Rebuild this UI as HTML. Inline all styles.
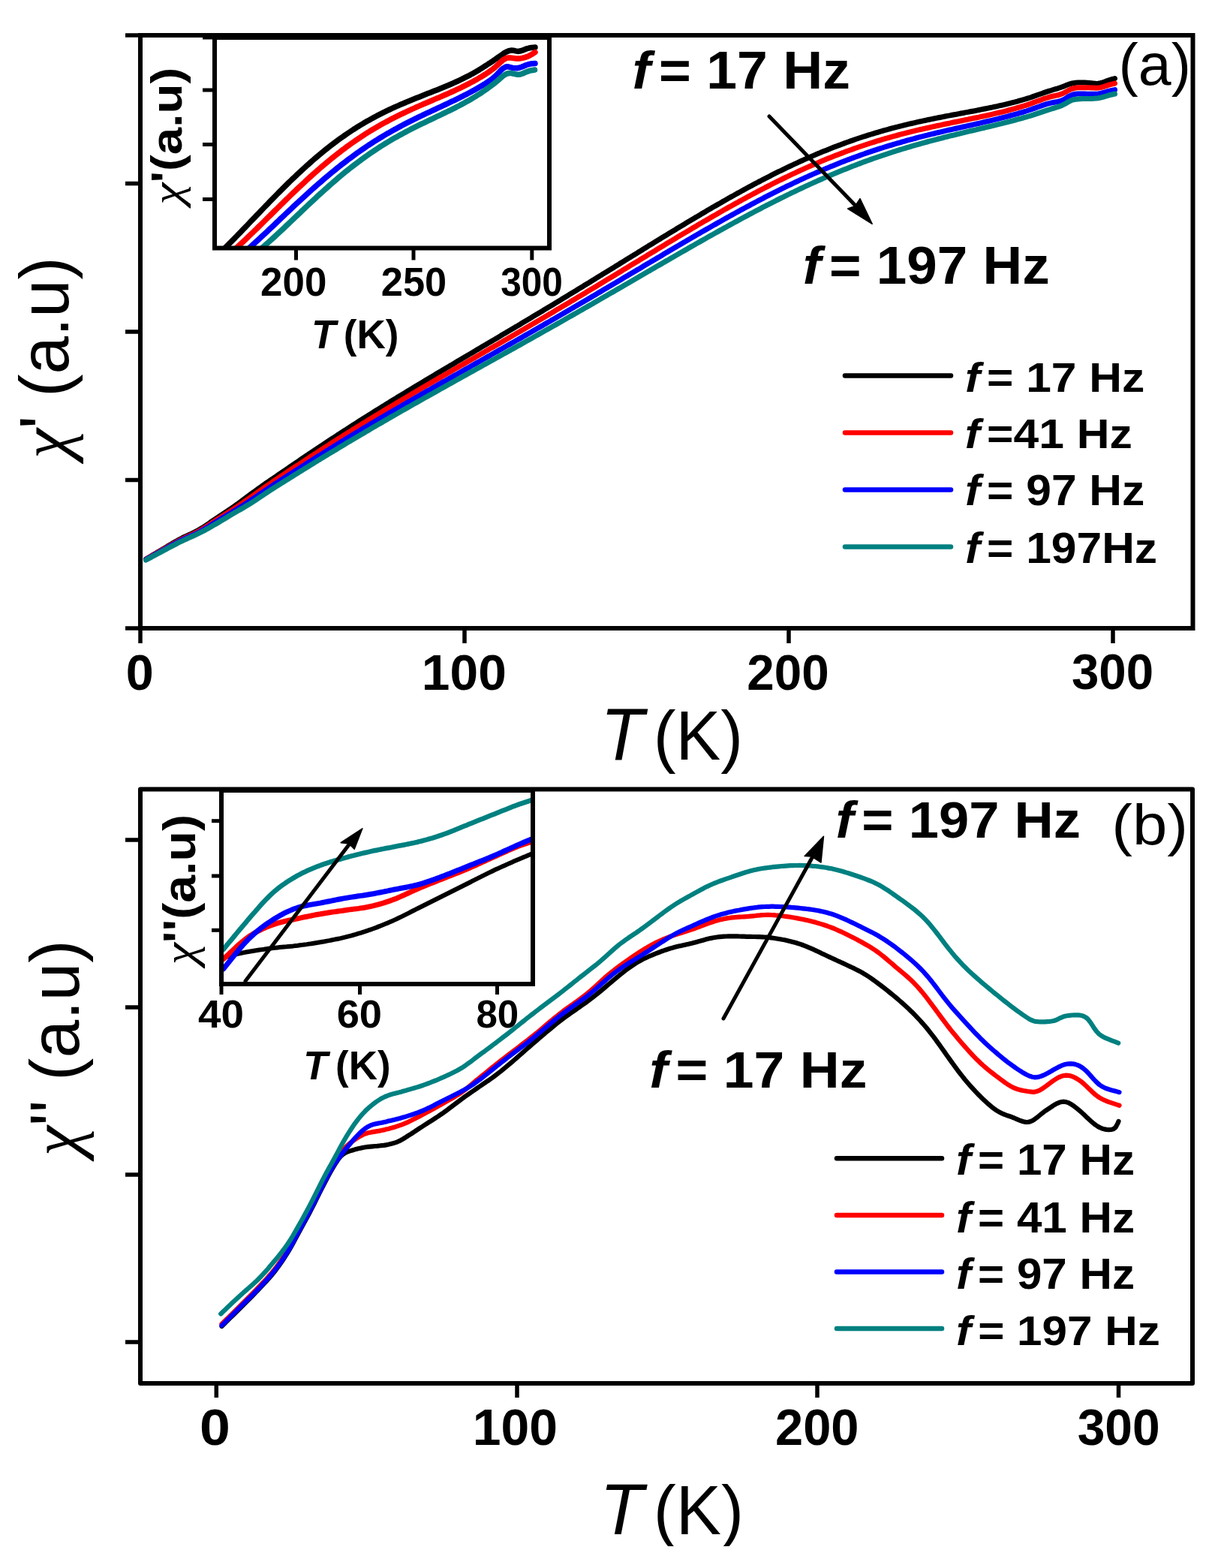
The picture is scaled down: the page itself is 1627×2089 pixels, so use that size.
<!DOCTYPE html>
<html><head><meta charset="utf-8"><title>AC susceptibility plot</title>
<style>html,body{margin:0;padding:0;background:#fff;}svg{display:block;}</style>
</head><body>
<svg width="1627" height="2089" viewBox="0 0 1627 2089" font-family="Liberation Sans, Arial, sans-serif">
<rect width="100%" height="100%" fill="#fff"/>
<path d="M194.5,745.0 L197.5,743.2 L200.5,741.4 L203.5,739.6 L206.5,737.9 L209.5,736.1 L212.5,734.3 L215.5,732.5 L218.5,730.7 L221.5,728.9 L224.5,727.1 L227.5,725.4 L230.5,723.6 L233.5,721.9 L236.5,720.2 L239.5,718.6 L242.5,717.0 L245.5,715.5 L248.5,714.1 L251.5,712.7 L254.5,711.3 L257.5,709.9 L260.5,708.4 L263.5,706.8 L266.5,705.1 L269.5,703.3 L272.5,701.3 L275.5,699.3 L278.5,697.3 L281.5,695.2 L284.5,693.1 L287.5,691.1 L290.5,689.1 L293.5,687.1 L296.5,685.1 L299.5,683.1 L302.5,681.1 L305.5,679.1 L308.5,677.1 L311.5,675.0 L314.5,672.9 L317.5,670.7 L320.5,668.5 L323.5,666.3 L326.5,664.0 L329.5,661.8 L332.5,659.6 L335.5,657.4 L338.5,655.2 L341.5,653.1 L344.5,650.9 L347.5,648.8 L350.5,646.7 L353.5,644.5 L356.5,642.5 L359.5,640.4 L362.5,638.3 L365.5,636.3 L368.5,634.3 L371.5,632.2 L374.5,630.2 L377.5,628.1 L380.5,626.1 L383.5,624.0 L386.5,621.9 L389.5,619.9 L392.5,617.9 L395.5,615.8 L398.5,613.8 L401.5,611.7 L404.5,609.7 L407.5,607.7 L410.5,605.7 L413.5,603.6 L416.5,601.6 L419.5,599.6 L422.5,597.6 L425.5,595.6 L428.5,593.6 L431.5,591.7 L434.5,589.7 L437.5,587.7 L440.5,585.7 L443.5,583.8 L446.5,581.8 L449.5,579.8 L452.5,577.9 L455.5,575.9 L458.5,574.0 L461.5,572.1 L464.5,570.1 L467.5,568.2 L470.5,566.3 L473.5,564.4 L476.5,562.5 L479.5,560.5 L482.5,558.6 L485.5,556.8 L488.5,554.9 L491.5,553.0 L494.5,551.1 L497.5,549.2 L500.5,547.3 L503.5,545.5 L506.5,543.6 L509.5,541.7 L512.5,539.9 L515.5,538.0 L518.5,536.2 L521.5,534.3 L524.5,532.5 L527.5,530.7 L530.5,528.8 L533.5,527.0 L536.5,525.2 L539.5,523.4 L542.5,521.5 L545.5,519.7 L548.5,517.9 L551.5,516.1 L554.5,514.3 L557.5,512.5 L560.5,510.7 L563.5,508.9 L566.5,507.1 L569.5,505.3 L572.5,503.5 L575.5,501.7 L578.5,499.9 L581.5,498.1 L584.5,496.3 L587.5,494.6 L590.5,492.8 L593.5,491.0 L596.5,489.2 L599.5,487.4 L602.5,485.7 L605.5,483.9 L608.5,482.1 L611.5,480.3 L614.5,478.6 L617.5,476.8 L620.5,475.0 L623.5,473.2 L626.5,471.5 L629.5,469.7 L632.5,467.9 L635.5,466.1 L638.5,464.4 L641.5,462.6 L644.5,460.8 L647.5,459.1 L650.5,457.3 L653.5,455.5 L656.5,453.7 L659.5,452.0 L662.5,450.2 L665.5,448.4 L668.5,446.6 L671.5,444.8 L674.5,443.1 L677.5,441.3 L680.5,439.5 L683.5,437.7 L686.5,435.9 L689.5,434.2 L692.5,432.4 L695.5,430.6 L698.5,428.8 L701.5,427.0 L704.5,425.2 L707.5,423.4 L710.5,421.6 L713.5,419.8 L716.5,418.0 L719.5,416.2 L722.5,414.4 L725.5,412.6 L728.5,410.8 L731.5,409.0 L734.5,407.2 L737.5,405.4 L740.5,403.6 L743.5,401.7 L746.5,399.9 L749.5,398.1 L752.5,396.3 L755.5,394.5 L758.5,392.6 L761.5,390.8 L764.5,389.0 L767.5,387.2 L770.5,385.3 L773.5,383.5 L776.5,381.7 L779.5,379.8 L782.5,378.0 L785.5,376.2 L788.5,374.3 L791.5,372.5 L794.5,370.6 L797.5,368.8 L800.5,366.9 L803.5,365.1 L806.5,363.3 L809.5,361.4 L812.5,359.6 L815.5,357.7 L818.5,355.9 L821.5,354.0 L824.5,352.2 L827.5,350.3 L830.5,348.5 L833.5,346.6 L836.5,344.8 L839.5,342.9 L842.5,341.1 L845.5,339.2 L848.5,337.4 L851.5,335.5 L854.5,333.7 L857.5,331.8 L860.5,330.0 L863.5,328.1 L866.5,326.3 L869.5,324.5 L872.5,322.6 L875.5,320.8 L878.5,318.9 L881.5,317.1 L884.5,315.3 L887.5,313.5 L890.5,311.6 L893.5,309.8 L896.5,308.0 L899.5,306.2 L902.5,304.3 L905.5,302.5 L908.5,300.7 L911.5,298.9 L914.5,297.1 L917.5,295.3 L920.5,293.5 L923.5,291.7 L926.5,289.9 L929.5,288.2 L932.5,286.4 L935.5,284.6 L938.5,282.9 L941.5,281.1 L944.5,279.3 L947.5,277.6 L950.5,275.8 L953.5,274.1 L956.5,272.4 L959.5,270.7 L962.5,268.9 L965.5,267.2 L968.5,265.5 L971.5,263.8 L974.5,262.1 L977.5,260.5 L980.5,258.8 L983.5,257.1 L986.5,255.5 L989.5,253.8 L992.5,252.2 L995.5,250.5 L998.5,248.9 L1001.5,247.3 L1004.5,245.7 L1007.5,244.1 L1010.5,242.5 L1013.5,241.0 L1016.5,239.4 L1019.5,237.8 L1022.5,236.3 L1025.5,234.8 L1028.5,233.2 L1031.5,231.7 L1034.5,230.2 L1037.5,228.7 L1040.5,227.3 L1043.5,225.8 L1046.5,224.3 L1049.5,222.9 L1052.5,221.5 L1055.5,220.1 L1058.5,218.7 L1061.5,217.3 L1064.5,215.9 L1067.5,214.5 L1070.5,213.2 L1073.5,211.8 L1076.5,210.5 L1079.5,209.2 L1082.5,207.9 L1085.5,206.6 L1088.5,205.3 L1091.5,204.1 L1094.5,202.8 L1097.5,201.6 L1100.5,200.4 L1103.5,199.2 L1106.5,198.0 L1109.5,196.8 L1112.5,195.6 L1115.5,194.5 L1118.5,193.4 L1121.5,192.2 L1124.5,191.1 L1127.5,190.0 L1130.5,189.0 L1133.5,187.9 L1136.5,186.9 L1139.5,185.8 L1142.5,184.8 L1145.5,183.8 L1148.5,182.8 L1151.5,181.8 L1154.5,180.9 L1157.5,179.9 L1160.5,179.0 L1163.5,178.1 L1166.5,177.2 L1169.5,176.3 L1172.5,175.4 L1175.5,174.5 L1178.5,173.7 L1181.5,172.9 L1184.5,172.0 L1187.5,171.2 L1190.5,170.4 L1193.5,169.6 L1196.5,168.9 L1199.5,168.1 L1202.5,167.4 L1205.5,166.6 L1208.5,165.9 L1211.5,165.2 L1214.5,164.5 L1217.5,163.8 L1220.5,163.1 L1223.5,162.4 L1226.5,161.8 L1229.5,161.1 L1232.5,160.5 L1235.5,159.8 L1238.5,159.2 L1241.5,158.6 L1244.5,158.0 L1247.5,157.4 L1250.5,156.8 L1253.5,156.2 L1256.5,155.6 L1259.5,155.0 L1262.5,154.4 L1265.5,153.9 L1268.5,153.3 L1271.5,152.7 L1274.5,152.2 L1277.5,151.6 L1280.5,151.0 L1283.5,150.5 L1286.5,149.9 L1289.5,149.4 L1292.5,148.8 L1295.5,148.2 L1298.5,147.7 L1301.5,147.1 L1304.5,146.5 L1307.5,145.9 L1310.5,145.3 L1313.5,144.7 L1316.5,144.1 L1319.5,143.5 L1322.5,142.9 L1325.5,142.2 L1328.5,141.6 L1331.5,140.9 L1334.5,140.3 L1337.5,139.6 L1340.5,138.9 L1343.5,138.1 L1346.5,137.4 L1349.5,136.6 L1352.5,135.9 L1355.5,135.1 L1358.5,134.2 L1361.5,133.4 L1364.5,132.5 L1367.5,131.6 L1370.5,130.7 L1373.5,129.7 L1376.5,128.6 L1379.5,127.6 L1382.5,126.5 L1385.5,125.5 L1388.5,124.5 L1391.5,123.4 L1394.5,122.4 L1397.5,121.4 L1400.5,120.5 L1403.5,119.5 L1406.5,118.6 L1409.5,117.8 L1412.5,116.8 L1415.5,115.7 L1418.5,114.6 L1421.5,113.3 L1424.5,112.2 L1427.5,111.3 L1430.5,110.7 L1433.5,110.3 L1436.5,110.1 L1439.5,110.1 L1442.5,110.1 L1445.5,110.1 L1448.5,110.2 L1451.5,110.4 L1454.5,110.7 L1457.5,111.1 L1460.5,111.4 L1463.5,111.3 L1466.5,110.7 L1469.5,109.8 L1472.5,108.8 L1475.5,107.6 L1478.5,106.6 L1481.5,105.7 L1484.5,104.9 L1485.5,104.6" fill="none" stroke="#000000" stroke-width="7.0" stroke-linejoin="round" stroke-linecap="round"/>
<path d="M194.5,745.0 L197.5,743.3 L200.5,741.6 L203.5,739.9 L206.5,738.2 L209.5,736.5 L212.5,734.8 L215.5,733.1 L218.5,731.4 L221.5,729.7 L224.5,728.0 L227.5,726.4 L230.5,724.7 L233.5,723.1 L236.5,721.4 L239.5,719.9 L242.5,718.3 L245.5,716.9 L248.5,715.5 L251.5,714.1 L254.5,712.7 L257.5,711.3 L260.5,709.9 L263.5,708.3 L266.5,706.7 L269.5,704.9 L272.5,703.0 L275.5,701.1 L278.5,699.1 L281.5,697.1 L284.5,695.2 L287.5,693.2 L290.5,691.3 L293.5,689.4 L296.5,687.5 L299.5,685.6 L302.5,683.8 L305.5,681.9 L308.5,679.9 L311.5,678.0 L314.5,676.0 L317.5,673.9 L320.5,671.9 L323.5,669.8 L326.5,667.7 L329.5,665.6 L332.5,663.5 L335.5,661.4 L338.5,659.2 L341.5,657.1 L344.5,655.0 L347.5,652.9 L350.5,650.8 L353.5,648.7 L356.5,646.6 L359.5,644.6 L362.5,642.5 L365.5,640.5 L368.5,638.5 L371.5,636.5 L374.5,634.5 L377.5,632.5 L380.5,630.5 L383.5,628.5 L386.5,626.5 L389.5,624.5 L392.5,622.5 L395.5,620.5 L398.5,618.6 L401.5,616.6 L404.5,614.6 L407.5,612.6 L410.5,610.7 L413.5,608.7 L416.5,606.7 L419.5,604.8 L422.5,602.8 L425.5,600.9 L428.5,598.9 L431.5,597.0 L434.5,595.1 L437.5,593.2 L440.5,591.2 L443.5,589.3 L446.5,587.4 L449.5,585.5 L452.5,583.6 L455.5,581.7 L458.5,579.8 L461.5,577.9 L464.5,576.0 L467.5,574.2 L470.5,572.3 L473.5,570.4 L476.5,568.6 L479.5,566.7 L482.5,564.8 L485.5,563.0 L488.5,561.2 L491.5,559.3 L494.5,557.5 L497.5,555.6 L500.5,553.8 L503.5,552.0 L506.5,550.2 L509.5,548.4 L512.5,546.6 L515.5,544.8 L518.5,543.0 L521.5,541.2 L524.5,539.4 L527.5,537.6 L530.5,535.8 L533.5,534.0 L536.5,532.2 L539.5,530.5 L542.5,528.7 L545.5,526.9 L548.5,525.1 L551.5,523.4 L554.5,521.6 L557.5,519.9 L560.5,518.1 L563.5,516.3 L566.5,514.6 L569.5,512.8 L572.5,511.1 L575.5,509.4 L578.5,507.6 L581.5,505.9 L584.5,504.1 L587.5,502.4 L590.5,500.7 L593.5,498.9 L596.5,497.2 L599.5,495.5 L602.5,493.7 L605.5,492.0 L608.5,490.3 L611.5,488.5 L614.5,486.8 L617.5,485.1 L620.5,483.4 L623.5,481.6 L626.5,479.9 L629.5,478.2 L632.5,476.4 L635.5,474.7 L638.5,473.0 L641.5,471.3 L644.5,469.5 L647.5,467.8 L650.5,466.1 L653.5,464.3 L656.5,462.6 L659.5,460.9 L662.5,459.2 L665.5,457.4 L668.5,455.7 L671.5,453.9 L674.5,452.2 L677.5,450.5 L680.5,448.7 L683.5,447.0 L686.5,445.3 L689.5,443.5 L692.5,441.8 L695.5,440.0 L698.5,438.3 L701.5,436.5 L704.5,434.8 L707.5,433.0 L710.5,431.3 L713.5,429.5 L716.5,427.7 L719.5,426.0 L722.5,424.2 L725.5,422.5 L728.5,420.7 L731.5,418.9 L734.5,417.2 L737.5,415.4 L740.5,413.6 L743.5,411.8 L746.5,410.1 L749.5,408.3 L752.5,406.5 L755.5,404.7 L758.5,402.9 L761.5,401.1 L764.5,399.4 L767.5,397.6 L770.5,395.8 L773.5,394.0 L776.5,392.2 L779.5,390.4 L782.5,388.6 L785.5,386.8 L788.5,385.0 L791.5,383.2 L794.5,381.4 L797.5,379.6 L800.5,377.7 L803.5,375.9 L806.5,374.1 L809.5,372.3 L812.5,370.5 L815.5,368.7 L818.5,366.9 L821.5,365.1 L824.5,363.2 L827.5,361.4 L830.5,359.6 L833.5,357.8 L836.5,356.0 L839.5,354.1 L842.5,352.3 L845.5,350.5 L848.5,348.7 L851.5,346.9 L854.5,345.0 L857.5,343.2 L860.5,341.4 L863.5,339.6 L866.5,337.8 L869.5,336.0 L872.5,334.2 L875.5,332.3 L878.5,330.5 L881.5,328.7 L884.5,326.9 L887.5,325.1 L890.5,323.3 L893.5,321.5 L896.5,319.7 L899.5,317.9 L902.5,316.1 L905.5,314.3 L908.5,312.5 L911.5,310.7 L914.5,309.0 L917.5,307.2 L920.5,305.4 L923.5,303.6 L926.5,301.9 L929.5,300.1 L932.5,298.3 L935.5,296.6 L938.5,294.8 L941.5,293.1 L944.5,291.4 L947.5,289.6 L950.5,287.9 L953.5,286.2 L956.5,284.4 L959.5,282.7 L962.5,281.0 L965.5,279.3 L968.5,277.6 L971.5,275.9 L974.5,274.3 L977.5,272.6 L980.5,270.9 L983.5,269.3 L986.5,267.6 L989.5,266.0 L992.5,264.4 L995.5,262.7 L998.5,261.1 L1001.5,259.5 L1004.5,257.9 L1007.5,256.3 L1010.5,254.7 L1013.5,253.2 L1016.5,251.6 L1019.5,250.0 L1022.5,248.5 L1025.5,247.0 L1028.5,245.4 L1031.5,243.9 L1034.5,242.4 L1037.5,240.9 L1040.5,239.5 L1043.5,238.0 L1046.5,236.5 L1049.5,235.1 L1052.5,233.6 L1055.5,232.2 L1058.5,230.8 L1061.5,229.4 L1064.5,228.0 L1067.5,226.6 L1070.5,225.3 L1073.5,223.9 L1076.5,222.6 L1079.5,221.3 L1082.5,220.0 L1085.5,218.7 L1088.5,217.4 L1091.5,216.1 L1094.5,214.8 L1097.5,213.6 L1100.5,212.3 L1103.5,211.1 L1106.5,209.9 L1109.5,208.7 L1112.5,207.5 L1115.5,206.4 L1118.5,205.2 L1121.5,204.1 L1124.5,203.0 L1127.5,201.8 L1130.5,200.7 L1133.5,199.7 L1136.5,198.6 L1139.5,197.5 L1142.5,196.5 L1145.5,195.5 L1148.5,194.5 L1151.5,193.5 L1154.5,192.5 L1157.5,191.5 L1160.5,190.5 L1163.5,189.6 L1166.5,188.6 L1169.5,187.7 L1172.5,186.8 L1175.5,185.9 L1178.5,185.0 L1181.5,184.2 L1184.5,183.3 L1187.5,182.5 L1190.5,181.6 L1193.5,180.8 L1196.5,180.0 L1199.5,179.2 L1202.5,178.4 L1205.5,177.7 L1208.5,176.9 L1211.5,176.1 L1214.5,175.4 L1217.5,174.7 L1220.5,173.9 L1223.5,173.2 L1226.5,172.5 L1229.5,171.8 L1232.5,171.2 L1235.5,170.5 L1238.5,169.8 L1241.5,169.1 L1244.5,168.5 L1247.5,167.8 L1250.5,167.2 L1253.5,166.6 L1256.5,165.9 L1259.5,165.3 L1262.5,164.7 L1265.5,164.1 L1268.5,163.4 L1271.5,162.8 L1274.5,162.2 L1277.5,161.6 L1280.5,161.0 L1283.5,160.4 L1286.5,159.8 L1289.5,159.2 L1292.5,158.5 L1295.5,157.9 L1298.5,157.3 L1301.5,156.7 L1304.5,156.1 L1307.5,155.4 L1310.5,154.8 L1313.5,154.1 L1316.5,153.5 L1319.5,152.8 L1322.5,152.1 L1325.5,151.4 L1328.5,150.7 L1331.5,150.0 L1334.5,149.3 L1337.5,148.6 L1340.5,147.8 L1343.5,147.0 L1346.5,146.2 L1349.5,145.4 L1352.5,144.6 L1355.5,143.7 L1358.5,142.8 L1361.5,141.9 L1364.5,141.0 L1367.5,140.1 L1370.5,139.1 L1373.5,138.0 L1376.5,136.9 L1379.5,135.8 L1382.5,134.7 L1385.5,133.6 L1388.5,132.5 L1391.5,131.4 L1394.5,130.5 L1397.5,129.6 L1400.5,128.7 L1403.5,128.0 L1406.5,127.4 L1409.5,126.8 L1412.5,125.9 L1415.5,124.8 L1418.5,123.4 L1421.5,121.7 L1424.5,120.0 L1427.5,118.6 L1430.5,117.7 L1433.5,117.1 L1436.5,116.8 L1439.5,116.7 L1442.5,116.7 L1445.5,116.7 L1448.5,116.7 L1451.5,116.7 L1454.5,116.9 L1457.5,117.1 L1460.5,117.3 L1463.5,117.1 L1466.5,116.6 L1469.5,115.8 L1472.5,114.9 L1475.5,113.9 L1478.5,112.9 L1481.5,112.1 L1484.5,111.4 L1485.5,111.1" fill="none" stroke="#ff0000" stroke-width="7.0" stroke-linejoin="round" stroke-linecap="round"/>
<path d="M194.5,745.5 L197.5,743.8 L200.5,742.2 L203.5,740.5 L206.5,738.8 L209.5,737.2 L212.5,735.5 L215.5,733.8 L218.5,732.2 L221.5,730.5 L224.5,728.9 L227.5,727.2 L230.5,725.6 L233.5,724.0 L236.5,722.4 L239.5,720.9 L242.5,719.4 L245.5,718.0 L248.5,716.6 L251.5,715.3 L254.5,714.0 L257.5,712.7 L260.5,711.3 L263.5,709.8 L266.5,708.3 L269.5,706.6 L272.5,704.8 L275.5,703.0 L278.5,701.2 L281.5,699.3 L284.5,697.4 L287.5,695.6 L290.5,693.8 L293.5,691.9 L296.5,690.1 L299.5,688.3 L302.5,686.5 L305.5,684.7 L308.5,682.9 L311.5,681.0 L314.5,679.2 L317.5,677.3 L320.5,675.5 L323.5,673.6 L326.5,671.6 L329.5,669.7 L332.5,667.7 L335.5,665.7 L338.5,663.6 L341.5,661.6 L344.5,659.5 L347.5,657.5 L350.5,655.4 L353.5,653.4 L356.5,651.3 L359.5,649.3 L362.5,647.3 L365.5,645.3 L368.5,643.4 L371.5,641.5 L374.5,639.5 L377.5,637.6 L380.5,635.6 L383.5,633.7 L386.5,631.8 L389.5,629.9 L392.5,627.9 L395.5,626.0 L398.5,624.1 L401.5,622.2 L404.5,620.3 L407.5,618.3 L410.5,616.4 L413.5,614.5 L416.5,612.6 L419.5,610.7 L422.5,608.8 L425.5,607.0 L428.5,605.1 L431.5,603.2 L434.5,601.3 L437.5,599.4 L440.5,597.6 L443.5,595.7 L446.5,593.8 L449.5,592.0 L452.5,590.1 L455.5,588.3 L458.5,586.4 L461.5,584.6 L464.5,582.8 L467.5,580.9 L470.5,579.1 L473.5,577.3 L476.5,575.5 L479.5,573.7 L482.5,571.8 L485.5,570.0 L488.5,568.2 L491.5,566.4 L494.5,564.6 L497.5,562.9 L500.5,561.1 L503.5,559.3 L506.5,557.5 L509.5,555.7 L512.5,554.0 L515.5,552.2 L518.5,550.4 L521.5,548.7 L524.5,546.9 L527.5,545.2 L530.5,543.4 L533.5,541.7 L536.5,539.9 L539.5,538.2 L542.5,536.4 L545.5,534.7 L548.5,533.0 L551.5,531.2 L554.5,529.5 L557.5,527.8 L560.5,526.1 L563.5,524.3 L566.5,522.6 L569.5,520.9 L572.5,519.2 L575.5,517.5 L578.5,515.8 L581.5,514.0 L584.5,512.3 L587.5,510.6 L590.5,508.9 L593.5,507.2 L596.5,505.5 L599.5,503.8 L602.5,502.1 L605.5,500.4 L608.5,498.7 L611.5,497.0 L614.5,495.3 L617.5,493.6 L620.5,491.9 L623.5,490.2 L626.5,488.5 L629.5,486.8 L632.5,485.1 L635.5,483.4 L638.5,481.7 L641.5,480.0 L644.5,478.3 L647.5,476.6 L650.5,474.9 L653.5,473.2 L656.5,471.5 L659.5,469.8 L662.5,468.1 L665.5,466.4 L668.5,464.7 L671.5,463.0 L674.5,461.3 L677.5,459.6 L680.5,457.9 L683.5,456.2 L686.5,454.5 L689.5,452.8 L692.5,451.1 L695.5,449.4 L698.5,447.6 L701.5,445.9 L704.5,444.2 L707.5,442.5 L710.5,440.8 L713.5,439.0 L716.5,437.3 L719.5,435.6 L722.5,433.9 L725.5,432.1 L728.5,430.4 L731.5,428.7 L734.5,426.9 L737.5,425.2 L740.5,423.5 L743.5,421.7 L746.5,420.0 L749.5,418.3 L752.5,416.5 L755.5,414.8 L758.5,413.0 L761.5,411.3 L764.5,409.5 L767.5,407.8 L770.5,406.0 L773.5,404.2 L776.5,402.5 L779.5,400.7 L782.5,399.0 L785.5,397.2 L788.5,395.4 L791.5,393.7 L794.5,391.9 L797.5,390.1 L800.5,388.4 L803.5,386.6 L806.5,384.8 L809.5,383.1 L812.5,381.3 L815.5,379.5 L818.5,377.7 L821.5,376.0 L824.5,374.2 L827.5,372.4 L830.5,370.6 L833.5,368.8 L836.5,367.1 L839.5,365.3 L842.5,363.5 L845.5,361.7 L848.5,359.9 L851.5,358.2 L854.5,356.4 L857.5,354.6 L860.5,352.8 L863.5,351.0 L866.5,349.3 L869.5,347.5 L872.5,345.7 L875.5,343.9 L878.5,342.2 L881.5,340.4 L884.5,338.6 L887.5,336.8 L890.5,335.1 L893.5,333.3 L896.5,331.5 L899.5,329.8 L902.5,328.0 L905.5,326.3 L908.5,324.5 L911.5,322.7 L914.5,321.0 L917.5,319.2 L920.5,317.5 L923.5,315.8 L926.5,314.0 L929.5,312.3 L932.5,310.6 L935.5,308.8 L938.5,307.1 L941.5,305.4 L944.5,303.7 L947.5,302.0 L950.5,300.3 L953.5,298.6 L956.5,296.9 L959.5,295.2 L962.5,293.5 L965.5,291.8 L968.5,290.1 L971.5,288.5 L974.5,286.8 L977.5,285.2 L980.5,283.5 L983.5,281.9 L986.5,280.2 L989.5,278.6 L992.5,277.0 L995.5,275.4 L998.5,273.8 L1001.5,272.2 L1004.5,270.6 L1007.5,269.0 L1010.5,267.4 L1013.5,265.8 L1016.5,264.3 L1019.5,262.7 L1022.5,261.2 L1025.5,259.6 L1028.5,258.1 L1031.5,256.6 L1034.5,255.1 L1037.5,253.6 L1040.5,252.1 L1043.5,250.6 L1046.5,249.2 L1049.5,247.7 L1052.5,246.3 L1055.5,244.8 L1058.5,243.4 L1061.5,242.0 L1064.5,240.6 L1067.5,239.2 L1070.5,237.8 L1073.5,236.4 L1076.5,235.1 L1079.5,233.7 L1082.5,232.4 L1085.5,231.1 L1088.5,229.8 L1091.5,228.5 L1094.5,227.2 L1097.5,225.9 L1100.5,224.6 L1103.5,223.4 L1106.5,222.1 L1109.5,220.9 L1112.5,219.7 L1115.5,218.5 L1118.5,217.3 L1121.5,216.1 L1124.5,214.9 L1127.5,213.8 L1130.5,212.6 L1133.5,211.5 L1136.5,210.4 L1139.5,209.3 L1142.5,208.2 L1145.5,207.1 L1148.5,206.0 L1151.5,205.0 L1154.5,203.9 L1157.5,202.9 L1160.5,201.9 L1163.5,200.9 L1166.5,199.9 L1169.5,198.9 L1172.5,197.9 L1175.5,197.0 L1178.5,196.0 L1181.5,195.1 L1184.5,194.2 L1187.5,193.3 L1190.5,192.4 L1193.5,191.5 L1196.5,190.6 L1199.5,189.8 L1202.5,188.9 L1205.5,188.1 L1208.5,187.2 L1211.5,186.4 L1214.5,185.6 L1217.5,184.8 L1220.5,184.0 L1223.5,183.2 L1226.5,182.4 L1229.5,181.7 L1232.5,180.9 L1235.5,180.2 L1238.5,179.4 L1241.5,178.7 L1244.5,178.0 L1247.5,177.2 L1250.5,176.5 L1253.5,175.8 L1256.5,175.1 L1259.5,174.4 L1262.5,173.7 L1265.5,173.0 L1268.5,172.4 L1271.5,171.7 L1274.5,171.0 L1277.5,170.3 L1280.5,169.7 L1283.5,169.0 L1286.5,168.3 L1289.5,167.6 L1292.5,167.0 L1295.5,166.3 L1298.5,165.6 L1301.5,165.0 L1304.5,164.3 L1307.5,163.6 L1310.5,162.9 L1313.5,162.2 L1316.5,161.5 L1319.5,160.8 L1322.5,160.1 L1325.5,159.4 L1328.5,158.7 L1331.5,157.9 L1334.5,157.2 L1337.5,156.4 L1340.5,155.6 L1343.5,154.8 L1346.5,154.0 L1349.5,153.2 L1352.5,152.4 L1355.5,151.6 L1358.5,150.7 L1361.5,149.8 L1364.5,148.9 L1367.5,148.0 L1370.5,147.0 L1373.5,146.0 L1376.5,144.9 L1379.5,143.9 L1382.5,142.8 L1385.5,141.7 L1388.5,140.6 L1391.5,139.6 L1394.5,138.7 L1397.5,137.8 L1400.5,137.1 L1403.5,136.5 L1406.5,136.0 L1409.5,135.5 L1412.5,134.7 L1415.5,133.6 L1418.5,132.1 L1421.5,130.2 L1424.5,128.3 L1427.5,126.8 L1430.5,125.8 L1433.5,125.2 L1436.5,125.0 L1439.5,124.9 L1442.5,125.0 L1445.5,125.1 L1448.5,125.2 L1451.5,125.3 L1454.5,125.3 L1457.5,125.3 L1460.5,125.2 L1463.5,124.9 L1466.5,124.4 L1469.5,123.7 L1472.5,122.8 L1475.5,122.0 L1478.5,121.2 L1481.5,120.5 L1484.5,119.8 L1485.5,119.6" fill="none" stroke="#0000ff" stroke-width="7.0" stroke-linejoin="round" stroke-linecap="round"/>
<path d="M194.5,746.0 L197.5,744.4 L200.5,742.8 L203.5,741.2 L206.5,739.6 L209.5,738.0 L212.5,736.4 L215.5,734.8 L218.5,733.2 L221.5,731.6 L224.5,730.0 L227.5,728.4 L230.5,726.8 L233.5,725.3 L236.5,723.7 L239.5,722.2 L242.5,720.8 L245.5,719.4 L248.5,718.0 L251.5,716.6 L254.5,715.3 L257.5,714.0 L260.5,712.6 L263.5,711.2 L266.5,709.7 L269.5,708.2 L272.5,706.6 L275.5,704.9 L278.5,703.3 L281.5,701.6 L284.5,699.8 L287.5,698.1 L290.5,696.4 L293.5,694.6 L296.5,692.8 L299.5,691.0 L302.5,689.2 L305.5,687.3 L308.5,685.5 L311.5,683.8 L314.5,682.0 L317.5,680.3 L320.5,678.6 L323.5,676.9 L326.5,675.1 L329.5,673.3 L332.5,671.5 L335.5,669.6 L338.5,667.6 L341.5,665.7 L344.5,663.7 L347.5,661.7 L350.5,659.7 L353.5,657.7 L356.5,655.7 L359.5,653.7 L362.5,651.7 L365.5,649.8 L368.5,647.9 L371.5,646.0 L374.5,644.1 L377.5,642.2 L380.5,640.3 L383.5,638.5 L386.5,636.6 L389.5,634.7 L392.5,632.8 L395.5,631.0 L398.5,629.1 L401.5,627.3 L404.5,625.4 L407.5,623.5 L410.5,621.7 L413.5,619.8 L416.5,618.0 L419.5,616.1 L422.5,614.3 L425.5,612.4 L428.5,610.6 L431.5,608.8 L434.5,606.9 L437.5,605.1 L440.5,603.3 L443.5,601.5 L446.5,599.7 L449.5,597.9 L452.5,596.0 L455.5,594.2 L458.5,592.4 L461.5,590.6 L464.5,588.8 L467.5,587.1 L470.5,585.3 L473.5,583.5 L476.5,581.7 L479.5,579.9 L482.5,578.2 L485.5,576.4 L488.5,574.6 L491.5,572.9 L494.5,571.1 L497.5,569.3 L500.5,567.6 L503.5,565.8 L506.5,564.1 L509.5,562.4 L512.5,560.6 L515.5,558.9 L518.5,557.1 L521.5,555.4 L524.5,553.7 L527.5,552.0 L530.5,550.3 L533.5,548.5 L536.5,546.8 L539.5,545.1 L542.5,543.4 L545.5,541.7 L548.5,540.0 L551.5,538.3 L554.5,536.6 L557.5,534.9 L560.5,533.2 L563.5,531.5 L566.5,529.8 L569.5,528.1 L572.5,526.4 L575.5,524.8 L578.5,523.1 L581.5,521.4 L584.5,519.7 L587.5,518.0 L590.5,516.4 L593.5,514.7 L596.5,513.0 L599.5,511.3 L602.5,509.7 L605.5,508.0 L608.5,506.3 L611.5,504.6 L614.5,503.0 L617.5,501.3 L620.5,499.6 L623.5,498.0 L626.5,496.3 L629.5,494.6 L632.5,493.0 L635.5,491.3 L638.5,489.6 L641.5,488.0 L644.5,486.3 L647.5,484.6 L650.5,483.0 L653.5,481.3 L656.5,479.6 L659.5,478.0 L662.5,476.3 L665.5,474.6 L668.5,473.0 L671.5,471.3 L674.5,469.6 L677.5,467.9 L680.5,466.3 L683.5,464.6 L686.5,462.9 L689.5,461.2 L692.5,459.6 L695.5,457.9 L698.5,456.2 L701.5,454.5 L704.5,452.9 L707.5,451.2 L710.5,449.5 L713.5,447.8 L716.5,446.1 L719.5,444.4 L722.5,442.7 L725.5,441.0 L728.5,439.3 L731.5,437.7 L734.5,436.0 L737.5,434.3 L740.5,432.6 L743.5,430.9 L746.5,429.2 L749.5,427.5 L752.5,425.8 L755.5,424.0 L758.5,422.3 L761.5,420.6 L764.5,418.9 L767.5,417.2 L770.5,415.5 L773.5,413.8 L776.5,412.1 L779.5,410.3 L782.5,408.6 L785.5,406.9 L788.5,405.2 L791.5,403.4 L794.5,401.7 L797.5,400.0 L800.5,398.3 L803.5,396.5 L806.5,394.8 L809.5,393.1 L812.5,391.3 L815.5,389.6 L818.5,387.9 L821.5,386.1 L824.5,384.4 L827.5,382.7 L830.5,380.9 L833.5,379.2 L836.5,377.5 L839.5,375.7 L842.5,374.0 L845.5,372.2 L848.5,370.5 L851.5,368.8 L854.5,367.0 L857.5,365.3 L860.5,363.5 L863.5,361.8 L866.5,360.1 L869.5,358.3 L872.5,356.6 L875.5,354.8 L878.5,353.1 L881.5,351.4 L884.5,349.6 L887.5,347.9 L890.5,346.2 L893.5,344.4 L896.5,342.7 L899.5,341.0 L902.5,339.3 L905.5,337.5 L908.5,335.8 L911.5,334.1 L914.5,332.4 L917.5,330.6 L920.5,328.9 L923.5,327.2 L926.5,325.5 L929.5,323.8 L932.5,322.1 L935.5,320.4 L938.5,318.7 L941.5,317.0 L944.5,315.3 L947.5,313.6 L950.5,312.0 L953.5,310.3 L956.5,308.6 L959.5,306.9 L962.5,305.3 L965.5,303.6 L968.5,302.0 L971.5,300.3 L974.5,298.7 L977.5,297.0 L980.5,295.4 L983.5,293.8 L986.5,292.1 L989.5,290.5 L992.5,288.9 L995.5,287.3 L998.5,285.7 L1001.5,284.1 L1004.5,282.5 L1007.5,280.9 L1010.5,279.4 L1013.5,277.8 L1016.5,276.2 L1019.5,274.7 L1022.5,273.1 L1025.5,271.6 L1028.5,270.1 L1031.5,268.6 L1034.5,267.0 L1037.5,265.5 L1040.5,264.0 L1043.5,262.6 L1046.5,261.1 L1049.5,259.6 L1052.5,258.2 L1055.5,256.7 L1058.5,255.3 L1061.5,253.8 L1064.5,252.4 L1067.5,251.0 L1070.5,249.6 L1073.5,248.2 L1076.5,246.8 L1079.5,245.4 L1082.5,244.1 L1085.5,242.7 L1088.5,241.4 L1091.5,240.0 L1094.5,238.7 L1097.5,237.4 L1100.5,236.1 L1103.5,234.8 L1106.5,233.5 L1109.5,232.2 L1112.5,231.0 L1115.5,229.7 L1118.5,228.5 L1121.5,227.3 L1124.5,226.1 L1127.5,224.9 L1130.5,223.7 L1133.5,222.5 L1136.5,221.3 L1139.5,220.2 L1142.5,219.0 L1145.5,217.9 L1148.5,216.8 L1151.5,215.6 L1154.5,214.5 L1157.5,213.5 L1160.5,212.4 L1163.5,211.3 L1166.5,210.3 L1169.5,209.2 L1172.5,208.2 L1175.5,207.2 L1178.5,206.2 L1181.5,205.2 L1184.5,204.2 L1187.5,203.2 L1190.5,202.2 L1193.5,201.3 L1196.5,200.3 L1199.5,199.4 L1202.5,198.5 L1205.5,197.6 L1208.5,196.7 L1211.5,195.8 L1214.5,194.9 L1217.5,194.0 L1220.5,193.2 L1223.5,192.3 L1226.5,191.5 L1229.5,190.6 L1232.5,189.8 L1235.5,189.0 L1238.5,188.2 L1241.5,187.4 L1244.5,186.6 L1247.5,185.8 L1250.5,185.0 L1253.5,184.3 L1256.5,183.5 L1259.5,182.7 L1262.5,182.0 L1265.5,181.2 L1268.5,180.5 L1271.5,179.8 L1274.5,179.0 L1277.5,178.3 L1280.5,177.6 L1283.5,176.9 L1286.5,176.1 L1289.5,175.4 L1292.5,174.7 L1295.5,174.0 L1298.5,173.3 L1301.5,172.6 L1304.5,171.9 L1307.5,171.2 L1310.5,170.5 L1313.5,169.7 L1316.5,169.0 L1319.5,168.3 L1322.5,167.6 L1325.5,166.9 L1328.5,166.1 L1331.5,165.4 L1334.5,164.7 L1337.5,163.9 L1340.5,163.2 L1343.5,162.4 L1346.5,161.6 L1349.5,160.8 L1352.5,160.0 L1355.5,159.2 L1358.5,158.4 L1361.5,157.6 L1364.5,156.7 L1367.5,155.9 L1370.5,155.0 L1373.5,154.1 L1376.5,153.1 L1379.5,152.1 L1382.5,151.1 L1385.5,150.1 L1388.5,149.1 L1391.5,148.1 L1394.5,147.1 L1397.5,146.2 L1400.5,145.2 L1403.5,144.3 L1406.5,143.4 L1409.5,142.5 L1412.5,141.4 L1415.5,140.2 L1418.5,138.7 L1421.5,136.9 L1424.5,135.2 L1427.5,133.8 L1430.5,132.8 L1433.5,132.2 L1436.5,131.9 L1439.5,131.7 L1442.5,131.6 L1445.5,131.6 L1448.5,131.6 L1451.5,131.5 L1454.5,131.4 L1457.5,131.3 L1460.5,131.1 L1463.5,130.7 L1466.5,130.1 L1469.5,129.3 L1472.5,128.5 L1475.5,127.6 L1478.5,126.7 L1481.5,126.0 L1484.5,125.3 L1485.5,125.1" fill="none" stroke="#008080" stroke-width="7.0" stroke-linejoin="round" stroke-linecap="round"/>
<rect x="187.0" y="47.0" width="1402.5" height="790.0" fill="none" stroke="#000" stroke-width="6.0"/>
<line x1="167.0" y1="47.0" x2="187.0" y2="47.0" stroke="#000" stroke-width="5.5" stroke-linecap="butt"/>
<line x1="167.0" y1="244.5" x2="187.0" y2="244.5" stroke="#000" stroke-width="5.5" stroke-linecap="butt"/>
<line x1="167.0" y1="442.0" x2="187.0" y2="442.0" stroke="#000" stroke-width="5.5" stroke-linecap="butt"/>
<line x1="167.0" y1="639.5" x2="187.0" y2="639.5" stroke="#000" stroke-width="5.5" stroke-linecap="butt"/>
<line x1="167.0" y1="837.0" x2="187.0" y2="837.0" stroke="#000" stroke-width="5.5" stroke-linecap="butt"/>
<line x1="187.0" y1="837.0" x2="187.0" y2="857.0" stroke="#000" stroke-width="5.5" stroke-linecap="butt"/>
<line x1="619.0" y1="837.0" x2="619.0" y2="857.0" stroke="#000" stroke-width="5.5" stroke-linecap="butt"/>
<line x1="1051.0" y1="837.0" x2="1051.0" y2="857.0" stroke="#000" stroke-width="5.5" stroke-linecap="butt"/>
<line x1="1483.0" y1="837.0" x2="1483.0" y2="857.0" stroke="#000" stroke-width="5.5" stroke-linecap="butt"/>
<rect x="286.0" y="50.0" width="446.0" height="280.5" fill="#fff" stroke="none"/>
<clipPath id="ca"><rect x="286.0" y="50.0" width="446.0" height="280.5"/></clipPath>
<g clip-path="url(#ca)">
<path d="M294.0,336.1 L297.0,333.1 L300.0,330.2 L303.0,327.2 L306.0,324.2 L309.0,321.2 L312.0,318.1 L315.0,315.0 L318.0,311.9 L321.0,308.8 L324.0,305.7 L327.0,302.6 L330.0,299.5 L333.0,296.3 L336.0,293.2 L339.0,290.1 L342.0,286.9 L345.0,283.8 L348.0,280.6 L351.0,277.5 L354.0,274.4 L357.0,271.3 L360.0,268.2 L363.0,265.1 L366.0,262.1 L369.0,259.0 L372.0,256.0 L375.0,253.0 L378.0,250.0 L381.0,247.0 L384.0,244.0 L387.0,241.1 L390.0,238.2 L393.0,235.4 L396.0,232.5 L399.0,229.7 L402.0,226.9 L405.0,224.2 L408.0,221.4 L411.0,218.8 L414.0,216.1 L417.0,213.5 L420.0,210.9 L423.0,208.3 L426.0,205.8 L429.0,203.3 L432.0,200.9 L435.0,198.5 L438.0,196.1 L441.0,193.8 L444.0,191.5 L447.0,189.2 L450.0,187.0 L453.0,184.8 L456.0,182.7 L459.0,180.6 L462.0,178.5 L465.0,176.5 L468.0,174.5 L471.0,172.5 L474.0,170.6 L477.0,168.7 L480.0,166.9 L483.0,165.1 L486.0,163.3 L489.0,161.6 L492.0,159.9 L495.0,158.2 L498.0,156.6 L501.0,155.0 L504.0,153.4 L507.0,151.9 L510.0,150.4 L513.0,148.9 L516.0,147.4 L519.0,146.0 L522.0,144.6 L525.0,143.2 L528.0,141.9 L531.0,140.6 L534.0,139.2 L537.0,138.0 L540.0,136.7 L543.0,135.4 L546.0,134.2 L549.0,133.0 L552.0,131.8 L555.0,130.6 L558.0,129.4 L561.0,128.2 L564.0,127.0 L567.0,125.8 L570.0,124.6 L573.0,123.5 L576.0,122.3 L579.0,121.1 L582.0,119.9 L585.0,118.7 L588.0,117.5 L591.0,116.3 L594.0,115.0 L597.0,113.8 L600.0,112.5 L603.0,111.2 L606.0,109.8 L609.0,108.5 L612.0,107.1 L615.0,105.7 L618.0,104.2 L621.0,102.7 L624.0,101.2 L627.0,99.6 L630.0,97.9 L633.0,96.2 L636.0,94.5 L639.0,92.7 L642.0,90.8 L645.0,88.9 L648.0,87.0 L651.0,85.0 L654.0,83.1 L657.0,81.1 L660.0,79.0 L663.0,76.9 L666.0,74.8 L669.0,72.7 L672.0,70.6 L675.0,68.9 L678.0,67.7 L681.0,67.1 L684.0,67.2 L687.0,67.9 L690.0,68.4 L693.0,68.1 L696.0,67.2 L699.0,66.0 L702.0,64.8 L705.0,64.0 L708.0,63.5 L711.0,63.2 L713.0,63.1" fill="none" stroke="#000000" stroke-width="7.5" stroke-linejoin="round" stroke-linecap="round"/>
<path d="M309.0,335.7 L312.0,333.0 L315.0,330.3 L318.0,327.6 L321.0,324.8 L324.0,322.0 L327.0,319.2 L330.0,316.3 L333.0,313.4 L336.0,310.6 L339.0,307.6 L342.0,304.7 L345.0,301.8 L348.0,298.8 L351.0,295.9 L354.0,292.9 L357.0,289.9 L360.0,287.0 L363.0,284.0 L366.0,281.0 L369.0,278.1 L372.0,275.1 L375.0,272.1 L378.0,269.2 L381.0,266.3 L384.0,263.3 L387.0,260.4 L390.0,257.5 L393.0,254.7 L396.0,251.8 L399.0,249.0 L402.0,246.2 L405.0,243.4 L408.0,240.6 L411.0,237.8 L414.0,235.1 L417.0,232.4 L420.0,229.7 L423.0,227.1 L426.0,224.5 L429.0,221.9 L432.0,219.4 L435.0,216.8 L438.0,214.3 L441.0,211.9 L444.0,209.5 L447.0,207.1 L450.0,204.7 L453.0,202.4 L456.0,200.1 L459.0,197.9 L462.0,195.6 L465.0,193.4 L468.0,191.3 L471.0,189.2 L474.0,187.1 L477.0,185.1 L480.0,183.1 L483.0,181.1 L486.0,179.1 L489.0,177.2 L492.0,175.4 L495.0,173.5 L498.0,171.7 L501.0,170.0 L504.0,168.2 L507.0,166.5 L510.0,164.8 L513.0,163.2 L516.0,161.6 L519.0,160.0 L522.0,158.4 L525.0,156.9 L528.0,155.4 L531.0,153.9 L534.0,152.4 L537.0,151.0 L540.0,149.6 L543.0,148.2 L546.0,146.8 L549.0,145.4 L552.0,144.1 L555.0,142.7 L558.0,141.4 L561.0,140.1 L564.0,138.8 L567.0,137.5 L570.0,136.3 L573.0,135.0 L576.0,133.7 L579.0,132.4 L582.0,131.1 L585.0,129.9 L588.0,128.6 L591.0,127.3 L594.0,126.0 L597.0,124.7 L600.0,123.3 L603.0,122.0 L606.0,120.6 L609.0,119.2 L612.0,117.8 L615.0,116.4 L618.0,114.9 L621.0,113.4 L624.0,111.9 L627.0,110.3 L630.0,108.7 L633.0,107.1 L636.0,105.4 L639.0,103.6 L642.0,101.9 L645.0,100.0 L648.0,98.1 L651.0,96.1 L654.0,94.0 L657.0,91.8 L660.0,89.3 L663.0,86.6 L666.0,83.8 L669.0,81.1 L672.0,78.8 L675.0,77.3 L678.0,76.9 L681.0,77.1 L684.0,77.5 L687.0,77.9 L690.0,78.1 L693.0,77.9 L696.0,77.4 L699.0,76.6 L702.0,75.7 L705.0,74.4 L708.0,72.8 L711.0,70.9 L713.0,69.6" fill="none" stroke="#ff0000" stroke-width="7.5" stroke-linejoin="round" stroke-linecap="round"/>
<path d="M326.0,335.8 L329.0,333.2 L332.0,330.5 L335.0,327.8 L338.0,325.1 L341.0,322.3 L344.0,319.6 L347.0,316.8 L350.0,314.0 L353.0,311.2 L356.0,308.4 L359.0,305.5 L362.0,302.7 L365.0,299.9 L368.0,297.0 L371.0,294.2 L374.0,291.3 L377.0,288.5 L380.0,285.6 L383.0,282.8 L386.0,280.0 L389.0,277.1 L392.0,274.3 L395.0,271.5 L398.0,268.7 L401.0,266.0 L404.0,263.2 L407.0,260.4 L410.0,257.7 L413.0,255.0 L416.0,252.3 L419.0,249.6 L422.0,247.0 L425.0,244.4 L428.0,241.8 L431.0,239.2 L434.0,236.6 L437.0,234.1 L440.0,231.6 L443.0,229.1 L446.0,226.7 L449.0,224.3 L452.0,221.9 L455.0,219.5 L458.0,217.2 L461.0,214.9 L464.0,212.6 L467.0,210.4 L470.0,208.2 L473.0,206.0 L476.0,203.8 L479.0,201.7 L482.0,199.6 L485.0,197.6 L488.0,195.5 L491.0,193.5 L494.0,191.6 L497.0,189.6 L500.0,187.7 L503.0,185.9 L506.0,184.0 L509.0,182.2 L512.0,180.4 L515.0,178.6 L518.0,176.9 L521.0,175.2 L524.0,173.5 L527.0,171.9 L530.0,170.2 L533.0,168.6 L536.0,167.0 L539.0,165.4 L542.0,163.9 L545.0,162.4 L548.0,160.9 L551.0,159.4 L554.0,157.9 L557.0,156.4 L560.0,155.0 L563.0,153.5 L566.0,152.1 L569.0,150.7 L572.0,149.3 L575.0,147.9 L578.0,146.5 L581.0,145.1 L584.0,143.7 L587.0,142.3 L590.0,140.9 L593.0,139.5 L596.0,138.1 L599.0,136.7 L602.0,135.2 L605.0,133.8 L608.0,132.3 L611.0,130.9 L614.0,129.4 L617.0,127.9 L620.0,126.3 L623.0,124.8 L626.0,123.2 L629.0,121.6 L632.0,119.9 L635.0,118.2 L638.0,116.5 L641.0,114.8 L644.0,113.0 L647.0,111.1 L650.0,109.1 L653.0,107.1 L656.0,104.9 L659.0,102.4 L662.0,99.5 L665.0,96.3 L668.0,93.2 L671.0,90.7 L674.0,89.1 L677.0,88.8 L680.0,89.6 L683.0,90.4 L686.0,90.8 L689.0,90.7 L692.0,90.2 L695.0,89.2 L698.0,88.0 L701.0,86.7 L704.0,85.7 L707.0,85.1 L710.0,84.8 L713.0,84.6" fill="none" stroke="#0000ff" stroke-width="7.5" stroke-linejoin="round" stroke-linecap="round"/>
<path d="M342.5,336.0 L345.5,333.5 L348.5,330.9 L351.5,328.3 L354.5,325.7 L357.5,323.0 L360.5,320.3 L363.5,317.6 L366.5,314.9 L369.5,312.1 L372.5,309.3 L375.5,306.5 L378.5,303.7 L381.5,300.8 L384.5,298.0 L387.5,295.1 L390.5,292.3 L393.5,289.4 L396.5,286.5 L399.5,283.7 L402.5,280.8 L405.5,278.0 L408.5,275.1 L411.5,272.3 L414.5,269.5 L417.5,266.7 L420.5,263.9 L423.5,261.1 L426.5,258.4 L429.5,255.7 L432.5,252.9 L435.5,250.3 L438.5,247.6 L441.5,245.0 L444.5,242.4 L447.5,239.8 L450.5,237.2 L453.5,234.7 L456.5,232.2 L459.5,229.7 L462.5,227.3 L465.5,224.9 L468.5,222.6 L471.5,220.2 L474.5,217.9 L477.5,215.7 L480.5,213.4 L483.5,211.2 L486.5,209.1 L489.5,207.0 L492.5,204.9 L495.5,202.8 L498.5,200.8 L501.5,198.8 L504.5,196.9 L507.5,194.9 L510.5,193.1 L513.5,191.2 L516.5,189.4 L519.5,187.6 L522.5,185.8 L525.5,184.1 L528.5,182.4 L531.5,180.7 L534.5,179.1 L537.5,177.5 L540.5,175.9 L543.5,174.3 L546.5,172.7 L549.5,171.2 L552.5,169.7 L555.5,168.2 L558.5,166.7 L561.5,165.2 L564.5,163.8 L567.5,162.3 L570.5,160.9 L573.5,159.5 L576.5,158.1 L579.5,156.6 L582.5,155.2 L585.5,153.8 L588.5,152.4 L591.5,150.9 L594.5,149.5 L597.5,148.0 L600.5,146.6 L603.5,145.1 L606.5,143.6 L609.5,142.0 L612.5,140.5 L615.5,138.9 L618.5,137.3 L621.5,135.6 L624.5,133.9 L627.5,132.2 L630.5,130.4 L633.5,128.6 L636.5,126.7 L639.5,124.8 L642.5,122.8 L645.5,120.7 L648.5,118.6 L651.5,116.5 L654.5,114.3 L657.5,112.1 L660.5,109.6 L663.5,107.1 L666.5,104.4 L669.5,101.8 L672.5,99.7 L675.5,98.2 L678.5,97.5 L681.5,97.6 L684.5,98.2 L687.5,99.0 L690.5,99.4 L693.5,99.0 L696.5,98.0 L699.5,96.6 L702.5,95.4 L705.5,94.4 L708.5,93.7 L711.5,93.2 L712.5,93.0" fill="none" stroke="#008080" stroke-width="7.5" stroke-linejoin="round" stroke-linecap="round"/>
</g>
<rect x="286.0" y="50.0" width="446.0" height="280.5" fill="none" stroke="#000" stroke-width="6"/>
<line x1="270.0" y1="50.0" x2="286.0" y2="50.0" stroke="#000" stroke-width="5.0" stroke-linecap="butt"/>
<line x1="270.0" y1="120.0" x2="286.0" y2="120.0" stroke="#000" stroke-width="5.0" stroke-linecap="butt"/>
<line x1="270.0" y1="192.5" x2="286.0" y2="192.5" stroke="#000" stroke-width="5.0" stroke-linecap="butt"/>
<line x1="270.0" y1="265.5" x2="286.0" y2="265.5" stroke="#000" stroke-width="5.0" stroke-linecap="butt"/>
<line x1="394.5" y1="330.5" x2="394.5" y2="346.5" stroke="#000" stroke-width="5.0" stroke-linecap="butt"/>
<line x1="551.0" y1="330.5" x2="551.0" y2="346.5" stroke="#000" stroke-width="5.0" stroke-linecap="butt"/>
<line x1="708.8" y1="330.5" x2="708.8" y2="346.5" stroke="#000" stroke-width="5.0" stroke-linecap="butt"/>
<line x1="1025" y1="155" x2="1141" y2="275" stroke="#000" stroke-width="5" stroke-linecap="round"/>
<polygon points="1162.2,298.3 1129.7,278 1139.5,274.5 1146,264.7" fill="#000" stroke="#000" stroke-width="1.5" stroke-linejoin="round"/>
<line x1="1126.0" y1="500.5" x2="1267.0" y2="500.5" stroke="#000000" stroke-width="6.5" stroke-linecap="round"/>
<line x1="1126.0" y1="576.5" x2="1267.0" y2="576.5" stroke="#ff0000" stroke-width="6.5" stroke-linecap="round"/>
<line x1="1126.0" y1="652.5" x2="1267.0" y2="652.5" stroke="#0000ff" stroke-width="6.5" stroke-linecap="round"/>
<line x1="1126.0" y1="728.5" x2="1267.0" y2="728.5" stroke="#008080" stroke-width="6.5" stroke-linecap="round"/>
<path d="M295.5,1767.0 L298.5,1764.0 L301.5,1761.1 L304.5,1758.1 L307.5,1755.1 L310.5,1752.2 L313.5,1749.2 L316.5,1746.2 L319.5,1743.2 L322.5,1740.2 L325.5,1737.2 L328.5,1734.2 L331.5,1731.2 L334.5,1728.2 L337.5,1725.2 L340.5,1722.1 L343.5,1719.0 L346.5,1715.9 L349.5,1712.7 L352.5,1709.5 L355.5,1706.3 L358.5,1702.9 L361.5,1699.4 L364.5,1695.8 L367.5,1692.0 L370.5,1688.0 L373.5,1683.8 L376.5,1679.4 L379.5,1674.9 L382.5,1670.2 L385.5,1665.2 L388.5,1659.9 L391.5,1654.5 L394.5,1648.9 L397.5,1643.3 L400.5,1637.7 L403.5,1632.3 L406.5,1626.8 L409.5,1621.3 L412.5,1615.7 L415.5,1609.9 L418.5,1604.0 L421.5,1597.9 L424.5,1591.9 L427.5,1585.9 L430.5,1580.0 L433.5,1574.3 L436.5,1568.6 L439.5,1563.1 L442.5,1557.8 L445.5,1552.7 L448.5,1547.9 L451.5,1543.6 L454.5,1540.1 L457.5,1537.5 L460.5,1535.7 L463.5,1534.4 L466.5,1533.4 L469.5,1532.5 L472.5,1531.6 L475.5,1530.8 L478.5,1530.1 L481.5,1529.4 L484.5,1528.8 L487.5,1528.3 L490.5,1527.9 L493.5,1527.6 L496.5,1527.3 L499.5,1527.0 L502.5,1526.8 L505.5,1526.5 L508.5,1526.2 L511.5,1525.9 L514.5,1525.4 L517.5,1524.8 L520.5,1524.1 L523.5,1523.3 L526.5,1522.4 L529.5,1521.3 L532.5,1519.9 L535.5,1518.3 L538.5,1516.5 L541.5,1514.7 L544.5,1512.7 L547.5,1510.8 L550.5,1508.8 L553.5,1506.9 L556.5,1504.9 L559.5,1502.9 L562.5,1501.0 L565.5,1499.0 L568.5,1497.1 L571.5,1495.2 L574.5,1493.3 L577.5,1491.4 L580.5,1489.4 L583.5,1487.5 L586.5,1485.4 L589.5,1483.4 L592.5,1481.2 L595.5,1479.1 L598.5,1476.8 L601.5,1474.5 L604.5,1472.3 L607.5,1470.0 L610.5,1467.7 L613.5,1465.5 L616.5,1463.3 L619.5,1461.1 L622.5,1459.0 L625.5,1456.9 L628.5,1454.8 L631.5,1452.7 L634.5,1450.6 L637.5,1448.5 L640.5,1446.5 L643.5,1444.4 L646.5,1442.4 L649.5,1440.3 L652.5,1438.3 L655.5,1436.2 L658.5,1434.0 L661.5,1431.7 L664.5,1429.4 L667.5,1427.1 L670.5,1424.7 L673.5,1422.2 L676.5,1419.7 L679.5,1417.2 L682.5,1414.6 L685.5,1412.0 L688.5,1409.4 L691.5,1406.7 L694.5,1404.1 L697.5,1401.5 L700.5,1398.8 L703.5,1396.2 L706.5,1393.6 L709.5,1391.0 L712.5,1388.4 L715.5,1385.8 L718.5,1383.2 L721.5,1380.6 L724.5,1378.1 L727.5,1375.5 L730.5,1373.0 L733.5,1370.5 L736.5,1368.0 L739.5,1365.6 L742.5,1363.2 L745.5,1360.8 L748.5,1358.5 L751.5,1356.3 L754.5,1354.1 L757.5,1351.9 L760.5,1349.8 L763.5,1347.7 L766.5,1345.6 L769.5,1343.5 L772.5,1341.4 L775.5,1339.3 L778.5,1337.2 L781.5,1335.1 L784.5,1332.8 L787.5,1330.6 L790.5,1328.3 L793.5,1325.9 L796.5,1323.5 L799.5,1321.0 L802.5,1318.5 L805.5,1316.0 L808.5,1313.4 L811.5,1310.9 L814.5,1308.3 L817.5,1305.8 L820.5,1303.3 L823.5,1300.9 L826.5,1298.4 L829.5,1296.1 L832.5,1293.7 L835.5,1291.4 L838.5,1289.2 L841.5,1287.1 L844.5,1285.1 L847.5,1283.2 L850.5,1281.4 L853.5,1279.7 L856.5,1278.1 L859.5,1276.6 L862.5,1275.2 L865.5,1273.8 L868.5,1272.6 L871.5,1271.3 L874.5,1270.1 L877.5,1269.0 L880.5,1267.8 L883.5,1266.8 L886.5,1265.7 L889.5,1264.7 L892.5,1263.8 L895.5,1262.9 L898.5,1262.1 L901.5,1261.3 L904.5,1260.6 L907.5,1259.9 L910.5,1259.2 L913.5,1258.6 L916.5,1257.9 L919.5,1257.2 L922.5,1256.5 L925.5,1255.7 L928.5,1254.9 L931.5,1254.1 L934.5,1253.2 L937.5,1252.4 L940.5,1251.6 L943.5,1250.8 L946.5,1250.1 L949.5,1249.5 L952.5,1249.0 L955.5,1248.5 L958.5,1248.2 L961.5,1247.9 L964.5,1247.6 L967.5,1247.5 L970.5,1247.3 L973.5,1247.3 L976.5,1247.3 L979.5,1247.3 L982.5,1247.4 L985.5,1247.5 L988.5,1247.6 L991.5,1247.7 L994.5,1247.8 L997.5,1247.9 L1000.5,1247.9 L1003.5,1248.0 L1006.5,1248.0 L1009.5,1248.1 L1012.5,1248.2 L1015.5,1248.3 L1018.5,1248.5 L1021.5,1248.7 L1024.5,1249.0 L1027.5,1249.4 L1030.5,1249.8 L1033.5,1250.2 L1036.5,1250.7 L1039.5,1251.2 L1042.5,1251.8 L1045.5,1252.3 L1048.5,1253.0 L1051.5,1253.7 L1054.5,1254.4 L1057.5,1255.2 L1060.5,1256.0 L1063.5,1257.0 L1066.5,1257.9 L1069.5,1259.0 L1072.5,1260.1 L1075.5,1261.3 L1078.5,1262.6 L1081.5,1263.9 L1084.5,1265.2 L1087.5,1266.6 L1090.5,1268.0 L1093.5,1269.4 L1096.5,1270.9 L1099.5,1272.3 L1102.5,1273.7 L1105.5,1275.1 L1108.5,1276.5 L1111.5,1277.9 L1114.5,1279.3 L1117.5,1280.7 L1120.5,1282.0 L1123.5,1283.4 L1126.5,1284.8 L1129.5,1286.2 L1132.5,1287.6 L1135.5,1289.0 L1138.5,1290.4 L1141.5,1291.9 L1144.5,1293.5 L1147.5,1295.1 L1150.5,1296.8 L1153.5,1298.6 L1156.5,1300.5 L1159.5,1302.5 L1162.5,1304.6 L1165.5,1306.7 L1168.5,1308.9 L1171.5,1311.2 L1174.5,1313.5 L1177.5,1315.8 L1180.5,1318.2 L1183.5,1320.5 L1186.5,1323.0 L1189.5,1325.4 L1192.5,1327.9 L1195.5,1330.4 L1198.5,1333.0 L1201.5,1335.6 L1204.5,1338.3 L1207.5,1341.0 L1210.5,1343.8 L1213.5,1346.7 L1216.5,1349.6 L1219.5,1352.7 L1222.5,1355.8 L1225.5,1359.0 L1228.5,1362.3 L1231.5,1365.7 L1234.5,1369.3 L1237.5,1373.0 L1240.5,1376.8 L1243.5,1380.7 L1246.5,1384.7 L1249.5,1388.8 L1252.5,1392.9 L1255.5,1397.2 L1258.5,1401.4 L1261.5,1405.7 L1264.5,1409.9 L1267.5,1414.1 L1270.5,1418.3 L1273.5,1422.4 L1276.5,1426.5 L1279.5,1430.4 L1282.5,1434.2 L1285.5,1438.0 L1288.5,1441.5 L1291.5,1445.0 L1294.5,1448.4 L1297.5,1451.7 L1300.5,1454.9 L1303.5,1458.0 L1306.5,1461.0 L1309.5,1463.9 L1312.5,1466.8 L1315.5,1469.6 L1318.5,1472.2 L1321.5,1474.7 L1324.5,1477.0 L1327.5,1479.1 L1330.5,1481.0 L1333.5,1482.6 L1336.5,1484.0 L1339.5,1485.2 L1342.5,1486.3 L1345.5,1487.3 L1348.5,1488.3 L1351.5,1489.5 L1354.5,1490.8 L1357.5,1492.1 L1360.5,1493.3 L1363.5,1494.3 L1366.5,1494.9 L1369.5,1495.0 L1372.5,1494.4 L1375.5,1493.2 L1378.5,1491.3 L1381.5,1489.1 L1384.5,1486.7 L1387.5,1484.2 L1390.5,1481.8 L1393.5,1479.6 L1396.5,1477.6 L1399.5,1475.6 L1402.5,1473.6 L1405.5,1471.7 L1408.5,1470.1 L1411.5,1468.8 L1414.5,1468.0 L1417.5,1467.7 L1420.5,1468.1 L1423.5,1469.1 L1426.5,1470.7 L1429.5,1472.6 L1432.5,1474.8 L1435.5,1477.1 L1438.5,1479.6 L1441.5,1482.3 L1444.5,1485.1 L1447.5,1488.0 L1450.5,1490.8 L1453.5,1493.5 L1456.5,1496.1 L1459.5,1498.5 L1462.5,1500.5 L1465.5,1502.2 L1468.5,1503.5 L1471.5,1504.4 L1474.5,1504.9 L1477.5,1505.1 L1480.5,1505.0 L1483.5,1504.3 L1486.5,1502.0 L1489.5,1496.4 L1490.5,1493.9" fill="none" stroke="#000000" stroke-width="6.2" stroke-linejoin="round" stroke-linecap="round"/>
<path d="M295.5,1764.0 L298.5,1761.0 L301.5,1758.1 L304.5,1755.1 L307.5,1752.1 L310.5,1749.2 L313.5,1746.2 L316.5,1743.2 L319.5,1740.2 L322.5,1737.2 L325.5,1734.2 L328.5,1731.2 L331.5,1728.2 L334.5,1725.2 L337.5,1722.2 L340.5,1719.1 L343.5,1716.0 L346.5,1712.9 L349.5,1709.7 L352.5,1706.5 L355.5,1703.3 L358.5,1699.9 L361.5,1696.4 L364.5,1692.8 L367.5,1689.0 L370.5,1685.0 L373.5,1680.8 L376.5,1676.4 L379.5,1671.9 L382.5,1667.2 L385.5,1662.2 L388.5,1656.9 L391.5,1651.5 L394.5,1645.9 L397.5,1640.3 L400.5,1634.7 L403.5,1629.3 L406.5,1623.8 L409.5,1618.3 L412.5,1612.7 L415.5,1606.9 L418.5,1601.1 L421.5,1595.1 L424.5,1589.2 L427.5,1583.3 L430.5,1577.5 L433.5,1571.9 L436.5,1566.3 L439.5,1560.9 L442.5,1555.6 L445.5,1550.5 L448.5,1545.5 L451.5,1540.7 L454.5,1536.1 L457.5,1532.0 L460.5,1528.5 L463.5,1525.5 L466.5,1522.9 L469.5,1520.6 L472.5,1518.5 L475.5,1516.5 L478.5,1514.6 L481.5,1512.9 L484.5,1511.3 L487.5,1510.2 L490.5,1509.3 L493.5,1508.7 L496.5,1508.1 L499.5,1507.6 L502.5,1507.1 L505.5,1506.6 L508.5,1506.0 L511.5,1505.4 L514.5,1504.6 L517.5,1503.9 L520.5,1503.1 L523.5,1502.2 L526.5,1501.4 L529.5,1500.4 L532.5,1499.4 L535.5,1498.4 L538.5,1497.2 L541.5,1495.9 L544.5,1494.6 L547.5,1493.1 L550.5,1491.6 L553.5,1490.1 L556.5,1488.5 L559.5,1486.9 L562.5,1485.3 L565.5,1483.7 L568.5,1482.1 L571.5,1480.5 L574.5,1478.9 L577.5,1477.2 L580.5,1475.5 L583.5,1473.9 L586.5,1472.2 L589.5,1470.5 L592.5,1468.8 L595.5,1467.1 L598.5,1465.4 L601.5,1463.7 L604.5,1462.0 L607.5,1460.2 L610.5,1458.3 L613.5,1456.4 L616.5,1454.3 L619.5,1452.0 L622.5,1449.6 L625.5,1447.1 L628.5,1444.6 L631.5,1442.0 L634.5,1439.5 L637.5,1437.1 L640.5,1434.6 L643.5,1432.2 L646.5,1429.8 L649.5,1427.4 L652.5,1424.9 L655.5,1422.5 L658.5,1420.1 L661.5,1417.8 L664.5,1415.4 L667.5,1413.0 L670.5,1410.7 L673.5,1408.3 L676.5,1406.0 L679.5,1403.7 L682.5,1401.4 L685.5,1399.1 L688.5,1396.9 L691.5,1394.6 L694.5,1392.3 L697.5,1390.0 L700.5,1387.7 L703.5,1385.4 L706.5,1383.0 L709.5,1380.6 L712.5,1378.2 L715.5,1375.8 L718.5,1373.3 L721.5,1370.8 L724.5,1368.3 L727.5,1365.7 L730.5,1363.2 L733.5,1360.7 L736.5,1358.2 L739.5,1355.7 L742.5,1353.3 L745.5,1350.9 L748.5,1348.6 L751.5,1346.3 L754.5,1344.1 L757.5,1341.9 L760.5,1339.8 L763.5,1337.7 L766.5,1335.6 L769.5,1333.5 L772.5,1331.3 L775.5,1329.1 L778.5,1326.8 L781.5,1324.4 L784.5,1321.9 L787.5,1319.4 L790.5,1316.7 L793.5,1313.9 L796.5,1311.2 L799.5,1308.4 L802.5,1305.7 L805.5,1303.0 L808.5,1300.5 L811.5,1297.9 L814.5,1295.5 L817.5,1293.1 L820.5,1290.8 L823.5,1288.5 L826.5,1286.3 L829.5,1284.1 L832.5,1281.9 L835.5,1279.8 L838.5,1277.7 L841.5,1275.6 L844.5,1273.6 L847.5,1271.6 L850.5,1269.6 L853.5,1267.7 L856.5,1265.8 L859.5,1263.9 L862.5,1262.2 L865.5,1260.4 L868.5,1258.8 L871.5,1257.2 L874.5,1255.6 L877.5,1254.2 L880.5,1252.8 L883.5,1251.5 L886.5,1250.3 L889.5,1249.1 L892.5,1248.0 L895.5,1246.9 L898.5,1245.9 L901.5,1244.9 L904.5,1243.9 L907.5,1243.0 L910.5,1242.0 L913.5,1241.1 L916.5,1240.1 L919.5,1239.1 L922.5,1238.1 L925.5,1237.0 L928.5,1235.9 L931.5,1234.8 L934.5,1233.6 L937.5,1232.5 L940.5,1231.4 L943.5,1230.3 L946.5,1229.2 L949.5,1228.2 L952.5,1227.3 L955.5,1226.4 L958.5,1225.6 L961.5,1224.9 L964.5,1224.2 L967.5,1223.6 L970.5,1223.1 L973.5,1222.7 L976.5,1222.4 L979.5,1222.1 L982.5,1221.9 L985.5,1221.7 L988.5,1221.5 L991.5,1221.3 L994.5,1221.1 L997.5,1220.9 L1000.5,1220.6 L1003.5,1220.3 L1006.5,1220.0 L1009.5,1219.6 L1012.5,1219.4 L1015.5,1219.1 L1018.5,1219.0 L1021.5,1218.9 L1024.5,1218.9 L1027.5,1219.0 L1030.5,1219.1 L1033.5,1219.4 L1036.5,1219.6 L1039.5,1219.9 L1042.5,1220.3 L1045.5,1220.7 L1048.5,1221.1 L1051.5,1221.5 L1054.5,1222.0 L1057.5,1222.5 L1060.5,1223.0 L1063.5,1223.6 L1066.5,1224.2 L1069.5,1224.8 L1072.5,1225.4 L1075.5,1226.1 L1078.5,1226.8 L1081.5,1227.5 L1084.5,1228.3 L1087.5,1229.1 L1090.5,1230.0 L1093.5,1230.9 L1096.5,1231.8 L1099.5,1232.8 L1102.5,1233.8 L1105.5,1234.9 L1108.5,1236.0 L1111.5,1237.2 L1114.5,1238.5 L1117.5,1239.8 L1120.5,1241.1 L1123.5,1242.5 L1126.5,1244.0 L1129.5,1245.5 L1132.5,1247.0 L1135.5,1248.5 L1138.5,1250.1 L1141.5,1251.6 L1144.5,1253.2 L1147.5,1254.8 L1150.5,1256.5 L1153.5,1258.2 L1156.5,1259.9 L1159.5,1261.7 L1162.5,1263.6 L1165.5,1265.5 L1168.5,1267.6 L1171.5,1269.8 L1174.5,1272.1 L1177.5,1274.5 L1180.5,1277.0 L1183.5,1279.6 L1186.5,1282.1 L1189.5,1284.7 L1192.5,1287.3 L1195.5,1289.8 L1198.5,1292.3 L1201.5,1294.8 L1204.5,1297.3 L1207.5,1299.9 L1210.5,1302.6 L1213.5,1305.3 L1216.5,1308.2 L1219.5,1311.3 L1222.5,1314.5 L1225.5,1317.9 L1228.5,1321.4 L1231.5,1325.1 L1234.5,1328.9 L1237.5,1332.8 L1240.5,1336.8 L1243.5,1340.8 L1246.5,1344.9 L1249.5,1349.0 L1252.5,1353.1 L1255.5,1357.2 L1258.5,1361.2 L1261.5,1365.1 L1264.5,1369.0 L1267.5,1372.8 L1270.5,1376.5 L1273.5,1380.1 L1276.5,1383.7 L1279.5,1387.2 L1282.5,1390.7 L1285.5,1394.1 L1288.5,1397.5 L1291.5,1400.8 L1294.5,1404.1 L1297.5,1407.3 L1300.5,1410.4 L1303.5,1413.3 L1306.5,1416.2 L1309.5,1419.0 L1312.5,1421.6 L1315.5,1424.2 L1318.5,1426.6 L1321.5,1429.0 L1324.5,1431.3 L1327.5,1433.6 L1330.5,1435.8 L1333.5,1438.1 L1336.5,1440.3 L1339.5,1442.5 L1342.5,1444.5 L1345.5,1446.4 L1348.5,1448.1 L1351.5,1449.5 L1354.5,1450.7 L1357.5,1451.6 L1360.5,1452.4 L1363.5,1453.0 L1366.5,1453.5 L1369.5,1454.0 L1372.5,1454.4 L1375.5,1454.8 L1378.5,1454.8 L1381.5,1454.1 L1384.5,1452.9 L1387.5,1451.3 L1390.5,1449.3 L1393.5,1447.2 L1396.5,1445.0 L1399.5,1442.8 L1402.5,1440.6 L1405.5,1438.5 L1408.5,1436.6 L1411.5,1435.0 L1414.5,1433.8 L1417.5,1433.0 L1420.5,1432.6 L1423.5,1432.8 L1426.5,1433.4 L1429.5,1434.4 L1432.5,1435.8 L1435.5,1437.5 L1438.5,1439.4 L1441.5,1441.6 L1444.5,1444.2 L1447.5,1447.0 L1450.5,1449.9 L1453.5,1452.8 L1456.5,1455.7 L1459.5,1458.3 L1462.5,1460.6 L1465.5,1462.6 L1468.5,1464.3 L1471.5,1465.7 L1474.5,1467.0 L1477.5,1468.1 L1480.5,1469.1 L1483.5,1470.1 L1486.5,1471.1 L1489.5,1472.1 L1491.5,1472.8" fill="none" stroke="#ff0000" stroke-width="6.2" stroke-linejoin="round" stroke-linecap="round"/>
<path d="M295.5,1765.9 L298.5,1762.9 L301.5,1759.9 L304.5,1756.9 L307.5,1753.9 L310.5,1750.9 L313.5,1747.9 L316.5,1744.9 L319.5,1741.9 L322.5,1738.9 L325.5,1736.0 L328.5,1733.0 L331.5,1730.1 L334.5,1727.1 L337.5,1724.1 L340.5,1721.0 L343.5,1717.9 L346.5,1714.8 L349.5,1711.6 L352.5,1708.3 L355.5,1705.0 L358.5,1701.6 L361.5,1698.1 L364.5,1694.4 L367.5,1690.6 L370.5,1686.6 L373.5,1682.5 L376.5,1678.2 L379.5,1673.7 L382.5,1668.9 L385.5,1663.9 L388.5,1658.6 L391.5,1653.1 L394.5,1647.4 L397.5,1641.7 L400.5,1636.2 L403.5,1630.7 L406.5,1625.2 L409.5,1619.7 L412.5,1614.1 L415.5,1608.4 L418.5,1602.5 L421.5,1596.4 L424.5,1590.4 L427.5,1584.4 L430.5,1578.5 L433.5,1572.7 L436.5,1567.0 L439.5,1561.5 L442.5,1556.2 L445.5,1551.3 L448.5,1546.8 L451.5,1542.7 L454.5,1538.8 L457.5,1535.0 L460.5,1531.2 L463.5,1527.5 L466.5,1523.9 L469.5,1520.3 L472.5,1516.9 L475.5,1513.7 L478.5,1510.6 L481.5,1507.7 L484.5,1505.1 L487.5,1502.8 L490.5,1500.9 L493.5,1499.4 L496.5,1498.3 L499.5,1497.5 L502.5,1496.9 L505.5,1496.3 L508.5,1495.7 L511.5,1495.1 L514.5,1494.4 L517.5,1493.6 L520.5,1492.9 L523.5,1492.2 L526.5,1491.5 L529.5,1490.7 L532.5,1490.0 L535.5,1489.1 L538.5,1488.3 L541.5,1487.4 L544.5,1486.4 L547.5,1485.5 L550.5,1484.5 L553.5,1483.4 L556.5,1482.3 L559.5,1481.2 L562.5,1480.0 L565.5,1478.7 L568.5,1477.3 L571.5,1475.9 L574.5,1474.4 L577.5,1472.9 L580.5,1471.3 L583.5,1469.7 L586.5,1468.2 L589.5,1466.7 L592.5,1465.2 L595.5,1463.7 L598.5,1462.2 L601.5,1460.8 L604.5,1459.3 L607.5,1457.8 L610.5,1456.3 L613.5,1454.7 L616.5,1453.1 L619.5,1451.4 L622.5,1449.7 L625.5,1447.9 L628.5,1446.0 L631.5,1443.9 L634.5,1441.8 L637.5,1439.6 L640.5,1437.4 L643.5,1435.1 L646.5,1432.7 L649.5,1430.3 L652.5,1427.9 L655.5,1425.5 L658.5,1423.1 L661.5,1420.7 L664.5,1418.3 L667.5,1415.9 L670.5,1413.5 L673.5,1411.2 L676.5,1408.9 L679.5,1406.6 L682.5,1404.3 L685.5,1402.0 L688.5,1399.8 L691.5,1397.5 L694.5,1395.2 L697.5,1393.0 L700.5,1390.7 L703.5,1388.4 L706.5,1386.0 L709.5,1383.6 L712.5,1381.2 L715.5,1378.7 L718.5,1376.2 L721.5,1373.7 L724.5,1371.2 L727.5,1368.6 L730.5,1366.1 L733.5,1363.5 L736.5,1361.0 L739.5,1358.5 L742.5,1356.1 L745.5,1353.7 L748.5,1351.4 L751.5,1349.1 L754.5,1346.9 L757.5,1344.7 L760.5,1342.6 L763.5,1340.5 L766.5,1338.4 L769.5,1336.3 L772.5,1334.2 L775.5,1332.0 L778.5,1329.9 L781.5,1327.6 L784.5,1325.3 L787.5,1322.9 L790.5,1320.4 L793.5,1317.8 L796.5,1315.2 L799.5,1312.6 L802.5,1309.9 L805.5,1307.3 L808.5,1304.7 L811.5,1302.2 L814.5,1299.7 L817.5,1297.2 L820.5,1294.9 L823.5,1292.7 L826.5,1290.5 L829.5,1288.5 L832.5,1286.5 L835.5,1284.6 L838.5,1282.7 L841.5,1280.9 L844.5,1279.1 L847.5,1277.2 L850.5,1275.4 L853.5,1273.5 L856.5,1271.6 L859.5,1269.7 L862.5,1267.8 L865.5,1265.9 L868.5,1263.9 L871.5,1261.9 L874.5,1260.0 L877.5,1258.0 L880.5,1256.0 L883.5,1254.1 L886.5,1252.1 L889.5,1250.2 L892.5,1248.4 L895.5,1246.6 L898.5,1244.9 L901.5,1243.3 L904.5,1241.8 L907.5,1240.3 L910.5,1238.9 L913.5,1237.5 L916.5,1236.1 L919.5,1234.8 L922.5,1233.5 L925.5,1232.1 L928.5,1230.8 L931.5,1229.4 L934.5,1228.1 L937.5,1226.8 L940.5,1225.5 L943.5,1224.3 L946.5,1223.1 L949.5,1222.0 L952.5,1220.9 L955.5,1219.9 L958.5,1219.0 L961.5,1218.0 L964.5,1217.2 L967.5,1216.4 L970.5,1215.6 L973.5,1214.9 L976.5,1214.3 L979.5,1213.6 L982.5,1213.0 L985.5,1212.5 L988.5,1211.9 L991.5,1211.4 L994.5,1210.9 L997.5,1210.4 L1000.5,1209.9 L1003.5,1209.5 L1006.5,1209.1 L1009.5,1208.7 L1012.5,1208.4 L1015.5,1208.2 L1018.5,1208.0 L1021.5,1207.8 L1024.5,1207.8 L1027.5,1207.7 L1030.5,1207.7 L1033.5,1207.8 L1036.5,1207.9 L1039.5,1208.0 L1042.5,1208.1 L1045.5,1208.3 L1048.5,1208.4 L1051.5,1208.6 L1054.5,1208.9 L1057.5,1209.1 L1060.5,1209.4 L1063.5,1209.7 L1066.5,1210.0 L1069.5,1210.3 L1072.5,1210.6 L1075.5,1211.0 L1078.5,1211.4 L1081.5,1211.8 L1084.5,1212.3 L1087.5,1212.8 L1090.5,1213.3 L1093.5,1213.9 L1096.5,1214.6 L1099.5,1215.3 L1102.5,1216.1 L1105.5,1216.9 L1108.5,1217.8 L1111.5,1218.8 L1114.5,1219.9 L1117.5,1221.1 L1120.5,1222.3 L1123.5,1223.6 L1126.5,1224.9 L1129.5,1226.3 L1132.5,1227.7 L1135.5,1229.1 L1138.5,1230.5 L1141.5,1232.0 L1144.5,1233.5 L1147.5,1234.9 L1150.5,1236.4 L1153.5,1237.9 L1156.5,1239.4 L1159.5,1240.9 L1162.5,1242.4 L1165.5,1244.1 L1168.5,1245.7 L1171.5,1247.5 L1174.5,1249.3 L1177.5,1251.2 L1180.5,1253.2 L1183.5,1255.2 L1186.5,1257.3 L1189.5,1259.4 L1192.5,1261.6 L1195.5,1263.9 L1198.5,1266.2 L1201.5,1268.5 L1204.5,1270.9 L1207.5,1273.3 L1210.5,1275.8 L1213.5,1278.4 L1216.5,1281.0 L1219.5,1283.7 L1222.5,1286.5 L1225.5,1289.5 L1228.5,1292.5 L1231.5,1295.7 L1234.5,1299.1 L1237.5,1302.6 L1240.5,1306.3 L1243.5,1310.1 L1246.5,1314.0 L1249.5,1318.0 L1252.5,1322.0 L1255.5,1326.0 L1258.5,1329.9 L1261.5,1333.7 L1264.5,1337.4 L1267.5,1341.0 L1270.5,1344.5 L1273.5,1347.9 L1276.5,1351.2 L1279.5,1354.5 L1282.5,1357.8 L1285.5,1361.1 L1288.5,1364.4 L1291.5,1367.7 L1294.5,1370.9 L1297.5,1374.1 L1300.5,1377.3 L1303.5,1380.3 L1306.5,1383.4 L1309.5,1386.3 L1312.5,1389.2 L1315.5,1392.0 L1318.5,1394.7 L1321.5,1397.4 L1324.5,1400.0 L1327.5,1402.5 L1330.5,1405.1 L1333.5,1407.6 L1336.5,1410.1 L1339.5,1412.5 L1342.5,1414.9 L1345.5,1417.1 L1348.5,1419.3 L1351.5,1421.4 L1354.5,1423.5 L1357.5,1425.5 L1360.5,1427.4 L1363.5,1429.3 L1366.5,1431.0 L1369.5,1432.5 L1372.5,1433.8 L1375.5,1434.7 L1378.5,1435.3 L1381.5,1435.2 L1384.5,1434.6 L1387.5,1433.7 L1390.5,1432.5 L1393.5,1431.1 L1396.5,1429.5 L1399.5,1427.8 L1402.5,1426.0 L1405.5,1424.3 L1408.5,1422.7 L1411.5,1421.1 L1414.5,1419.7 L1417.5,1418.6 L1420.5,1417.8 L1423.5,1417.3 L1426.5,1417.1 L1429.5,1417.3 L1432.5,1417.9 L1435.5,1418.9 L1438.5,1420.2 L1441.5,1422.0 L1444.5,1424.2 L1447.5,1426.9 L1450.5,1430.0 L1453.5,1433.4 L1456.5,1436.8 L1459.5,1440.0 L1462.5,1443.0 L1465.5,1445.5 L1468.5,1447.5 L1471.5,1449.0 L1474.5,1450.3 L1477.5,1451.3 L1480.5,1452.2 L1483.5,1452.9 L1486.5,1453.7 L1489.5,1454.6 L1491.5,1455.2" fill="none" stroke="#0000ff" stroke-width="6.2" stroke-linejoin="round" stroke-linecap="round"/>
<path d="M294.2,1750.4 L297.2,1747.5 L300.2,1744.7 L303.2,1741.8 L306.2,1739.0 L309.2,1736.1 L312.2,1733.3 L315.2,1730.5 L318.2,1727.7 L321.2,1725.0 L324.2,1722.3 L327.2,1719.6 L330.2,1717.0 L333.2,1714.4 L336.2,1711.7 L339.2,1709.0 L342.2,1706.2 L345.2,1703.2 L348.2,1700.1 L351.2,1696.9 L354.2,1693.6 L357.2,1690.2 L360.2,1686.6 L363.2,1683.1 L366.2,1679.5 L369.2,1675.9 L372.2,1672.2 L375.2,1668.4 L378.2,1664.5 L381.2,1660.4 L384.2,1656.0 L387.2,1651.4 L390.2,1646.5 L393.2,1641.3 L396.2,1636.1 L399.2,1630.8 L402.2,1625.5 L405.2,1620.0 L408.2,1614.5 L411.2,1608.9 L414.2,1603.2 L417.2,1597.3 L420.2,1591.3 L423.2,1585.3 L426.2,1579.3 L429.2,1573.4 L432.2,1567.6 L435.2,1562.1 L438.2,1556.6 L441.2,1551.2 L444.2,1545.7 L447.2,1540.2 L450.2,1534.6 L453.2,1529.0 L456.2,1523.5 L459.2,1518.2 L462.2,1513.1 L465.2,1508.3 L468.2,1503.7 L471.2,1499.2 L474.2,1495.1 L477.2,1491.1 L480.2,1487.4 L483.2,1484.0 L486.2,1480.8 L489.2,1477.8 L492.2,1475.2 L495.2,1472.6 L498.2,1470.3 L501.2,1468.0 L504.2,1466.0 L507.2,1464.1 L510.2,1462.5 L513.2,1461.0 L516.2,1459.8 L519.2,1458.7 L522.2,1457.8 L525.2,1457.0 L528.2,1456.2 L531.2,1455.4 L534.2,1454.7 L537.2,1453.8 L540.2,1453.0 L543.2,1452.1 L546.2,1451.3 L549.2,1450.4 L552.2,1449.5 L555.2,1448.6 L558.2,1447.7 L561.2,1446.7 L564.2,1445.7 L567.2,1444.6 L570.2,1443.5 L573.2,1442.4 L576.2,1441.2 L579.2,1440.0 L582.2,1438.8 L585.2,1437.5 L588.2,1436.2 L591.2,1434.9 L594.2,1433.5 L597.2,1432.1 L600.2,1430.7 L603.2,1429.2 L606.2,1427.7 L609.2,1426.2 L612.2,1424.5 L615.2,1422.8 L618.2,1420.9 L621.2,1418.8 L624.2,1416.6 L627.2,1414.4 L630.2,1412.1 L633.2,1409.8 L636.2,1407.6 L639.2,1405.3 L642.2,1403.1 L645.2,1400.9 L648.2,1398.6 L651.2,1396.4 L654.2,1394.2 L657.2,1391.9 L660.2,1389.7 L663.2,1387.4 L666.2,1385.1 L669.2,1382.8 L672.2,1380.5 L675.2,1378.2 L678.2,1375.8 L681.2,1373.5 L684.2,1371.1 L687.2,1368.7 L690.2,1366.3 L693.2,1363.9 L696.2,1361.5 L699.2,1359.1 L702.2,1356.7 L705.2,1354.4 L708.2,1352.0 L711.2,1349.7 L714.2,1347.4 L717.2,1345.1 L720.2,1342.8 L723.2,1340.5 L726.2,1338.3 L729.2,1336.0 L732.2,1333.8 L735.2,1331.5 L738.2,1329.3 L741.2,1327.0 L744.2,1324.7 L747.2,1322.4 L750.2,1320.1 L753.2,1317.7 L756.2,1315.4 L759.2,1313.0 L762.2,1310.6 L765.2,1308.2 L768.2,1305.8 L771.2,1303.4 L774.2,1301.0 L777.2,1298.7 L780.2,1296.3 L783.2,1294.0 L786.2,1291.6 L789.2,1289.3 L792.2,1287.0 L795.2,1284.6 L798.2,1282.1 L801.2,1279.5 L804.2,1276.9 L807.2,1274.2 L810.2,1271.5 L813.2,1268.8 L816.2,1266.1 L819.2,1263.4 L822.2,1260.9 L825.2,1258.4 L828.2,1256.1 L831.2,1253.9 L834.2,1251.8 L837.2,1249.7 L840.2,1247.7 L843.2,1245.7 L846.2,1243.7 L849.2,1241.6 L852.2,1239.5 L855.2,1237.4 L858.2,1235.2 L861.2,1233.0 L864.2,1230.8 L867.2,1228.6 L870.2,1226.3 L873.2,1224.0 L876.2,1221.7 L879.2,1219.4 L882.2,1217.2 L885.2,1214.9 L888.2,1212.7 L891.2,1210.6 L894.2,1208.5 L897.2,1206.5 L900.2,1204.5 L903.2,1202.6 L906.2,1200.8 L909.2,1199.1 L912.2,1197.4 L915.2,1195.7 L918.2,1194.1 L921.2,1192.4 L924.2,1190.7 L927.2,1189.1 L930.2,1187.4 L933.2,1185.8 L936.2,1184.2 L939.2,1182.6 L942.2,1181.1 L945.2,1179.7 L948.2,1178.3 L951.2,1177.0 L954.2,1175.8 L957.2,1174.7 L960.2,1173.5 L963.2,1172.5 L966.2,1171.4 L969.2,1170.4 L972.2,1169.4 L975.2,1168.3 L978.2,1167.3 L981.2,1166.3 L984.2,1165.3 L987.2,1164.3 L990.2,1163.3 L993.2,1162.3 L996.2,1161.4 L999.2,1160.6 L1002.2,1159.8 L1005.2,1159.1 L1008.2,1158.4 L1011.2,1157.8 L1014.2,1157.3 L1017.2,1156.8 L1020.2,1156.4 L1023.2,1156.0 L1026.2,1155.6 L1029.2,1155.2 L1032.2,1154.9 L1035.2,1154.6 L1038.2,1154.3 L1041.2,1154.0 L1044.2,1153.8 L1047.2,1153.6 L1050.2,1153.4 L1053.2,1153.2 L1056.2,1153.1 L1059.2,1153.0 L1062.2,1153.0 L1065.2,1152.9 L1068.2,1153.0 L1071.2,1153.1 L1074.2,1153.2 L1077.2,1153.3 L1080.2,1153.5 L1083.2,1153.8 L1086.2,1154.0 L1089.2,1154.3 L1092.2,1154.7 L1095.2,1155.1 L1098.2,1155.5 L1101.2,1156.0 L1104.2,1156.6 L1107.2,1157.1 L1110.2,1157.8 L1113.2,1158.5 L1116.2,1159.2 L1119.2,1160.0 L1122.2,1160.8 L1125.2,1161.7 L1128.2,1162.6 L1131.2,1163.5 L1134.2,1164.5 L1137.2,1165.5 L1140.2,1166.5 L1143.2,1167.5 L1146.2,1168.5 L1149.2,1169.6 L1152.2,1170.7 L1155.2,1171.8 L1158.2,1173.0 L1161.2,1174.2 L1164.2,1175.5 L1167.2,1177.0 L1170.2,1178.5 L1173.2,1180.1 L1176.2,1181.9 L1179.2,1183.8 L1182.2,1185.7 L1185.2,1187.7 L1188.2,1189.8 L1191.2,1191.9 L1194.2,1194.0 L1197.2,1196.1 L1200.2,1198.2 L1203.2,1200.3 L1206.2,1202.5 L1209.2,1204.7 L1212.2,1206.9 L1215.2,1209.2 L1218.2,1211.5 L1221.2,1214.0 L1224.2,1216.6 L1227.2,1219.3 L1230.2,1222.1 L1233.2,1225.2 L1236.2,1228.4 L1239.2,1231.8 L1242.2,1235.4 L1245.2,1239.1 L1248.2,1243.0 L1251.2,1246.9 L1254.2,1250.9 L1257.2,1254.9 L1260.2,1258.8 L1263.2,1262.7 L1266.2,1266.4 L1269.2,1270.1 L1272.2,1273.7 L1275.2,1277.1 L1278.2,1280.4 L1281.2,1283.6 L1284.2,1286.8 L1287.2,1289.8 L1290.2,1292.7 L1293.2,1295.5 L1296.2,1298.2 L1299.2,1300.9 L1302.2,1303.6 L1305.2,1306.2 L1308.2,1308.8 L1311.2,1311.3 L1314.2,1313.8 L1317.2,1316.4 L1320.2,1318.9 L1323.2,1321.3 L1326.2,1323.8 L1329.2,1326.2 L1332.2,1328.7 L1335.2,1331.1 L1338.2,1333.5 L1341.2,1335.8 L1344.2,1338.2 L1347.2,1340.5 L1350.2,1342.7 L1353.2,1345.0 L1356.2,1347.2 L1359.2,1349.3 L1362.2,1351.5 L1365.2,1353.5 L1368.2,1355.5 L1371.2,1357.4 L1374.2,1359.0 L1377.2,1360.2 L1380.2,1360.9 L1383.2,1361.2 L1386.2,1361.3 L1389.2,1361.3 L1392.2,1361.3 L1395.2,1361.1 L1398.2,1360.9 L1401.2,1360.5 L1404.2,1360.0 L1407.2,1359.0 L1410.2,1357.6 L1413.2,1356.1 L1416.2,1354.7 L1419.2,1353.8 L1422.2,1353.3 L1425.2,1352.9 L1428.2,1352.5 L1431.2,1352.3 L1434.2,1352.3 L1437.2,1352.4 L1440.2,1352.8 L1443.2,1353.6 L1446.2,1355.0 L1449.2,1357.3 L1452.2,1360.9 L1455.2,1365.4 L1458.2,1370.1 L1461.2,1374.2 L1464.2,1377.3 L1467.2,1379.7 L1470.2,1381.5 L1473.2,1382.9 L1476.2,1384.2 L1479.2,1385.4 L1482.2,1386.6 L1485.2,1387.7 L1488.2,1388.9 L1490.2,1389.7" fill="none" stroke="#008080" stroke-width="6.2" stroke-linejoin="round" stroke-linecap="round"/>
<rect x="187.0" y="1051.5" width="1402.0" height="791.5" fill="none" stroke="#000" stroke-width="6.0" stroke-linejoin="round"/>
<line x1="167.0" y1="1119.0" x2="187.0" y2="1119.0" stroke="#000" stroke-width="5.5" stroke-linecap="butt"/>
<line x1="167.0" y1="1342.0" x2="187.0" y2="1342.0" stroke="#000" stroke-width="5.5" stroke-linecap="butt"/>
<line x1="167.0" y1="1565.0" x2="187.0" y2="1565.0" stroke="#000" stroke-width="5.5" stroke-linecap="butt"/>
<line x1="167.0" y1="1788.0" x2="187.0" y2="1788.0" stroke="#000" stroke-width="5.5" stroke-linecap="butt"/>
<line x1="288.3" y1="1843.0" x2="288.3" y2="1862.0" stroke="#000" stroke-width="5.5" stroke-linecap="butt"/>
<line x1="689.0" y1="1843.0" x2="689.0" y2="1862.0" stroke="#000" stroke-width="5.5" stroke-linecap="butt"/>
<line x1="1089.0" y1="1843.0" x2="1089.0" y2="1862.0" stroke="#000" stroke-width="5.5" stroke-linecap="butt"/>
<line x1="1490.5" y1="1843.0" x2="1490.5" y2="1862.0" stroke="#000" stroke-width="5.5" stroke-linecap="butt"/>
<rect x="295.0" y="1053.0" width="415.0" height="258.0" fill="#fff" stroke="none"/>
<clipPath id="cb"><rect x="295.0" y="1053.0" width="415.0" height="258.0"/></clipPath>
<g clip-path="url(#cb)">
<path d="M297.7,1276.0 L300.7,1275.1 L303.7,1274.2 L306.7,1273.4 L309.7,1272.5 L312.7,1271.7 L315.7,1271.0 L318.7,1270.3 L321.7,1269.7 L324.7,1269.1 L327.7,1268.5 L330.7,1268.0 L333.7,1267.5 L336.7,1267.0 L339.7,1266.5 L342.7,1266.0 L345.7,1265.5 L348.7,1265.1 L351.7,1264.7 L354.7,1264.2 L357.7,1263.8 L360.7,1263.4 L363.7,1263.1 L366.7,1262.7 L369.7,1262.4 L372.7,1262.1 L375.7,1261.8 L378.7,1261.5 L381.7,1261.3 L384.7,1261.0 L387.7,1260.7 L390.7,1260.4 L393.7,1260.0 L396.7,1259.7 L399.7,1259.3 L402.7,1258.9 L405.7,1258.5 L408.7,1258.1 L411.7,1257.6 L414.7,1257.2 L417.7,1256.7 L420.7,1256.2 L423.7,1255.7 L426.7,1255.2 L429.7,1254.7 L432.7,1254.2 L435.7,1253.6 L438.7,1253.1 L441.7,1252.5 L444.7,1251.9 L447.7,1251.3 L450.7,1250.7 L453.7,1250.1 L456.7,1249.4 L459.7,1248.7 L462.7,1247.9 L465.7,1247.1 L468.7,1246.3 L471.7,1245.5 L474.7,1244.6 L477.7,1243.7 L480.7,1242.8 L483.7,1241.8 L486.7,1240.9 L489.7,1239.9 L492.7,1238.8 L495.7,1237.8 L498.7,1236.7 L501.7,1235.6 L504.7,1234.4 L507.7,1233.2 L510.7,1232.0 L513.7,1230.8 L516.7,1229.6 L519.7,1228.3 L522.7,1227.0 L525.7,1225.6 L528.7,1224.2 L531.7,1222.8 L534.7,1221.4 L537.7,1219.9 L540.7,1218.4 L543.7,1216.9 L546.7,1215.3 L549.7,1213.8 L552.7,1212.3 L555.7,1210.7 L558.7,1209.2 L561.7,1207.7 L564.7,1206.2 L567.7,1204.7 L570.7,1203.2 L573.7,1201.7 L576.7,1200.2 L579.7,1198.7 L582.7,1197.2 L585.7,1195.7 L588.7,1194.2 L591.7,1192.7 L594.7,1191.2 L597.7,1189.7 L600.7,1188.2 L603.7,1186.7 L606.7,1185.2 L609.7,1183.7 L612.7,1182.2 L615.7,1180.7 L618.7,1179.2 L621.7,1177.7 L624.7,1176.2 L627.7,1174.7 L630.7,1173.1 L633.7,1171.6 L636.7,1170.1 L639.7,1168.6 L642.7,1167.1 L645.7,1165.6 L648.7,1164.1 L651.7,1162.6 L654.7,1161.2 L657.7,1159.7 L660.7,1158.3 L663.7,1157.0 L666.7,1155.6 L669.7,1154.2 L672.7,1152.9 L675.7,1151.6 L678.7,1150.2 L681.7,1148.9 L684.7,1147.6 L687.7,1146.3 L690.7,1145.0 L693.7,1143.7 L696.7,1142.4 L699.7,1141.2 L702.7,1139.9 L705.7,1138.7 L707.7,1137.8" fill="none" stroke="#000000" stroke-width="6.0" stroke-linejoin="round" stroke-linecap="round"/>
<path d="M297.7,1277.8 L300.7,1275.0 L303.7,1272.2 L306.7,1269.3 L309.7,1266.5 L312.7,1263.7 L315.7,1260.9 L318.7,1258.2 L321.7,1255.6 L324.7,1253.1 L327.7,1250.7 L330.7,1248.5 L333.7,1246.5 L336.7,1244.6 L339.7,1242.8 L342.7,1241.1 L345.7,1239.6 L348.7,1238.1 L351.7,1236.7 L354.7,1235.4 L357.7,1234.1 L360.7,1233.0 L363.7,1231.9 L366.7,1230.9 L369.7,1229.9 L372.7,1229.1 L375.7,1228.3 L378.7,1227.6 L381.7,1226.9 L384.7,1226.2 L387.7,1225.6 L390.7,1225.0 L393.7,1224.3 L396.7,1223.7 L399.7,1223.1 L402.7,1222.4 L405.7,1221.8 L408.7,1221.2 L411.7,1220.6 L414.7,1220.0 L417.7,1219.4 L420.7,1218.8 L423.7,1218.3 L426.7,1217.8 L429.7,1217.2 L432.7,1216.7 L435.7,1216.3 L438.7,1215.8 L441.7,1215.3 L444.7,1214.9 L447.7,1214.5 L450.7,1214.0 L453.7,1213.6 L456.7,1213.2 L459.7,1212.7 L462.7,1212.3 L465.7,1211.9 L468.7,1211.5 L471.7,1211.1 L474.7,1210.8 L477.7,1210.4 L480.7,1209.9 L483.7,1209.5 L486.7,1209.0 L489.7,1208.4 L492.7,1207.8 L495.7,1207.1 L498.7,1206.4 L501.7,1205.6 L504.7,1204.8 L507.7,1204.0 L510.7,1203.1 L513.7,1202.1 L516.7,1201.1 L519.7,1200.1 L522.7,1199.0 L525.7,1197.9 L528.7,1196.7 L531.7,1195.4 L534.7,1194.1 L537.7,1192.8 L540.7,1191.4 L543.7,1190.0 L546.7,1188.6 L549.7,1187.2 L552.7,1185.9 L555.7,1184.5 L558.7,1183.2 L561.7,1181.9 L564.7,1180.7 L567.7,1179.5 L570.7,1178.3 L573.7,1177.1 L576.7,1175.9 L579.7,1174.7 L582.7,1173.5 L585.7,1172.3 L588.7,1171.2 L591.7,1170.0 L594.7,1168.8 L597.7,1167.6 L600.7,1166.4 L603.7,1165.3 L606.7,1164.1 L609.7,1162.9 L612.7,1161.7 L615.7,1160.5 L618.7,1159.3 L621.7,1158.0 L624.7,1156.7 L627.7,1155.4 L630.7,1154.1 L633.7,1152.8 L636.7,1151.4 L639.7,1150.1 L642.7,1148.7 L645.7,1147.3 L648.7,1145.9 L651.7,1144.6 L654.7,1143.2 L657.7,1141.8 L660.7,1140.5 L663.7,1139.1 L666.7,1137.7 L669.7,1136.4 L672.7,1135.0 L675.7,1133.7 L678.7,1132.3 L681.7,1131.0 L684.7,1129.7 L687.7,1128.5 L690.7,1127.3 L693.7,1126.2 L696.7,1125.1 L699.7,1124.1 L702.7,1123.1 L705.7,1122.1 L707.7,1121.5" fill="none" stroke="#ff0000" stroke-width="7.0" stroke-linejoin="round" stroke-linecap="round"/>
<path d="M297.7,1290.8 L300.7,1287.1 L303.7,1283.4 L306.7,1279.6 L309.7,1275.9 L312.7,1272.1 L315.7,1268.5 L318.7,1264.9 L321.7,1261.3 L324.7,1258.0 L327.7,1254.7 L330.7,1251.6 L333.7,1248.7 L336.7,1245.9 L339.7,1243.2 L342.7,1240.6 L345.7,1238.2 L348.7,1235.8 L351.7,1233.6 L354.7,1231.4 L357.7,1229.3 L360.7,1227.3 L363.7,1225.3 L366.7,1223.5 L369.7,1221.7 L372.7,1219.9 L375.7,1218.3 L378.7,1216.7 L381.7,1215.2 L384.7,1213.9 L387.7,1212.6 L390.7,1211.3 L393.7,1210.2 L396.7,1209.2 L399.7,1208.3 L402.7,1207.5 L405.7,1206.8 L408.7,1206.2 L411.7,1205.6 L414.7,1205.1 L417.7,1204.6 L420.7,1204.1 L423.7,1203.6 L426.7,1203.1 L429.7,1202.5 L432.7,1201.9 L435.7,1201.3 L438.7,1200.7 L441.7,1200.1 L444.7,1199.5 L447.7,1198.9 L450.7,1198.3 L453.7,1197.7 L456.7,1197.1 L459.7,1196.6 L462.7,1196.1 L465.7,1195.6 L468.7,1195.1 L471.7,1194.7 L474.7,1194.3 L477.7,1193.8 L480.7,1193.4 L483.7,1193.0 L486.7,1192.5 L489.7,1192.0 L492.7,1191.5 L495.7,1191.0 L498.7,1190.5 L501.7,1189.9 L504.7,1189.3 L507.7,1188.7 L510.7,1188.1 L513.7,1187.5 L516.7,1186.9 L519.7,1186.2 L522.7,1185.6 L525.7,1185.0 L528.7,1184.5 L531.7,1183.9 L534.7,1183.3 L537.7,1182.8 L540.7,1182.2 L543.7,1181.6 L546.7,1181.0 L549.7,1180.4 L552.7,1179.7 L555.7,1179.0 L558.7,1178.2 L561.7,1177.3 L564.7,1176.4 L567.7,1175.4 L570.7,1174.4 L573.7,1173.4 L576.7,1172.3 L579.7,1171.2 L582.7,1170.1 L585.7,1169.0 L588.7,1167.8 L591.7,1166.7 L594.7,1165.5 L597.7,1164.4 L600.7,1163.2 L603.7,1162.0 L606.7,1160.8 L609.7,1159.6 L612.7,1158.4 L615.7,1157.2 L618.7,1155.9 L621.7,1154.7 L624.7,1153.5 L627.7,1152.3 L630.7,1151.2 L633.7,1150.0 L636.7,1148.8 L639.7,1147.6 L642.7,1146.4 L645.7,1145.2 L648.7,1144.0 L651.7,1142.8 L654.7,1141.5 L657.7,1140.2 L660.7,1138.9 L663.7,1137.6 L666.7,1136.3 L669.7,1134.9 L672.7,1133.5 L675.7,1132.2 L678.7,1130.8 L681.7,1129.4 L684.7,1128.1 L687.7,1126.7 L690.7,1125.4 L693.7,1124.1 L696.7,1122.8 L699.7,1121.5 L702.7,1120.2 L705.7,1119.0 L707.7,1118.1" fill="none" stroke="#0000ff" stroke-width="7.0" stroke-linejoin="round" stroke-linecap="round"/>
<path d="M297.7,1264.8 L300.7,1261.2 L303.7,1257.5 L306.7,1253.9 L309.7,1250.3 L312.7,1246.6 L315.7,1243.0 L318.7,1239.4 L321.7,1235.8 L324.7,1232.3 L327.7,1228.8 L330.7,1225.2 L333.7,1221.7 L336.7,1218.2 L339.7,1214.8 L342.7,1211.3 L345.7,1207.9 L348.7,1204.5 L351.7,1201.3 L354.7,1198.1 L357.7,1195.1 L360.7,1192.2 L363.7,1189.4 L366.7,1186.8 L369.7,1184.3 L372.7,1181.9 L375.7,1179.7 L378.7,1177.6 L381.7,1175.5 L384.7,1173.6 L387.7,1171.7 L390.7,1169.9 L393.7,1168.1 L396.7,1166.4 L399.7,1164.8 L402.7,1163.2 L405.7,1161.8 L408.7,1160.3 L411.7,1159.0 L414.7,1157.7 L417.7,1156.5 L420.7,1155.3 L423.7,1154.1 L426.7,1153.0 L429.7,1151.9 L432.7,1150.8 L435.7,1149.8 L438.7,1148.9 L441.7,1147.9 L444.7,1147.0 L447.7,1146.2 L450.7,1145.3 L453.7,1144.5 L456.7,1143.7 L459.7,1142.9 L462.7,1142.0 L465.7,1141.2 L468.7,1140.4 L471.7,1139.7 L474.7,1138.9 L477.7,1138.1 L480.7,1137.4 L483.7,1136.7 L486.7,1136.0 L489.7,1135.3 L492.7,1134.6 L495.7,1133.9 L498.7,1133.3 L501.7,1132.7 L504.7,1132.1 L507.7,1131.5 L510.7,1130.9 L513.7,1130.3 L516.7,1129.7 L519.7,1129.2 L522.7,1128.6 L525.7,1128.0 L528.7,1127.4 L531.7,1126.8 L534.7,1126.3 L537.7,1125.7 L540.7,1125.1 L543.7,1124.5 L546.7,1123.9 L549.7,1123.3 L552.7,1122.6 L555.7,1122.0 L558.7,1121.2 L561.7,1120.5 L564.7,1119.7 L567.7,1118.9 L570.7,1118.0 L573.7,1117.2 L576.7,1116.3 L579.7,1115.3 L582.7,1114.4 L585.7,1113.4 L588.7,1112.4 L591.7,1111.3 L594.7,1110.2 L597.7,1109.1 L600.7,1107.9 L603.7,1106.8 L606.7,1105.5 L609.7,1104.3 L612.7,1103.1 L615.7,1101.8 L618.7,1100.6 L621.7,1099.4 L624.7,1098.1 L627.7,1096.9 L630.7,1095.7 L633.7,1094.5 L636.7,1093.3 L639.7,1092.1 L642.7,1090.9 L645.7,1089.7 L648.7,1088.5 L651.7,1087.3 L654.7,1086.1 L657.7,1084.9 L660.7,1083.7 L663.7,1082.5 L666.7,1081.3 L669.7,1080.1 L672.7,1078.9 L675.7,1077.7 L678.7,1076.5 L681.7,1075.3 L684.7,1074.1 L687.7,1073.0 L690.7,1071.9 L693.7,1070.8 L696.7,1069.8 L699.7,1068.8 L702.7,1067.8 L705.7,1066.8 L707.7,1066.1" fill="none" stroke="#008080" stroke-width="6.5" stroke-linejoin="round" stroke-linecap="round"/>
<line x1="327" y1="1307" x2="466" y2="1124" stroke="#000" stroke-width="5" stroke-linecap="round"/>
<polygon points="482.9,1103.8 454.1,1122.7 465,1124 472.2,1131.3" fill="#000" stroke="#000" stroke-width="1.5" stroke-linejoin="round"/>
</g>
<rect x="295.0" y="1053.0" width="415.0" height="258.0" fill="none" stroke="#000" stroke-width="6"/>
<line x1="282.0" y1="1093.7" x2="295.0" y2="1093.7" stroke="#000" stroke-width="5.0" stroke-linecap="butt"/>
<line x1="282.0" y1="1167.0" x2="295.0" y2="1167.0" stroke="#000" stroke-width="5.0" stroke-linecap="butt"/>
<line x1="282.0" y1="1239.3" x2="295.0" y2="1239.3" stroke="#000" stroke-width="5.0" stroke-linecap="butt"/>
<line x1="295.0" y1="1311.0" x2="295.0" y2="1325.0" stroke="#000" stroke-width="5.0" stroke-linecap="butt"/>
<line x1="479.5" y1="1311.0" x2="479.5" y2="1325.0" stroke="#000" stroke-width="5.0" stroke-linecap="butt"/>
<line x1="662.5" y1="1311.0" x2="662.5" y2="1325.0" stroke="#000" stroke-width="5.0" stroke-linecap="butt"/>
<line x1="964" y1="1357" x2="1083" y2="1141" stroke="#000" stroke-width="5" stroke-linecap="round"/>
<polygon points="1097.5,1114.2 1072.2,1140.6 1081.5,1141 1094,1149" fill="#000" stroke="#000" stroke-width="1.5" stroke-linejoin="round"/>
<line x1="1115.0" y1="1543.3" x2="1255.0" y2="1543.3" stroke="#000000" stroke-width="6.5" stroke-linecap="round"/>
<line x1="1115.0" y1="1618.9" x2="1255.0" y2="1618.9" stroke="#ff0000" stroke-width="6.5" stroke-linecap="round"/>
<line x1="1115.0" y1="1694.5" x2="1255.0" y2="1694.5" stroke="#0000ff" stroke-width="6.5" stroke-linecap="round"/>
<line x1="1115.0" y1="1770.1" x2="1255.0" y2="1770.1" stroke="#008080" stroke-width="6.5" stroke-linecap="round"/>
<text x="0" y="0" font-size="65" font-weight="bold" transform="translate(167.83,918.80) scale(1.0233,1.0378)">0</text>
<text x="0" y="0" font-size="65" font-weight="bold" transform="translate(561.83,918.60) scale(1.0422,1.0356)">100</text>
<text x="0" y="0" font-size="65" font-weight="bold" transform="translate(995.18,918.50) scale(1.0096,1.0333)">200</text>
<text x="0" y="0" font-size="65" font-weight="bold" transform="translate(1427.99,918.00) scale(1.0058,1.0222)">300</text>
<text x="0" y="0" font-size="93" font-weight="normal" transform="translate(800.13,1011.53) scale(0.9628,1.0035)"><tspan font-style="italic" font-size="97.7">T</tspan><tspan font-size="93.0" dx="-12.1"> (K)</tspan></text>
<text x="0" y="0" font-size="92" font-weight="normal" transform="translate(90.91,611.10) rotate(-90) scale(0.9854,1.0047)"><tspan font-family="Liberation Serif, DejaVu Serif, serif" font-style="italic" font-weight="normal">χ</tspan>' (a.u)</text>
<text x="0" y="0" font-size="77" font-weight="normal" transform="translate(1490.58,113.00) scale(1.0238,1.0000)">(a)</text>
<text x="0" y="0" font-size="71.5" font-weight="bold" transform="translate(842.62,118.00) scale(1.0264,0.9868)"><tspan font-style="italic">f</tspan><tspan dx="10.7">= 17 Hz</tspan></text>
<text x="0" y="0" font-size="72" font-weight="bold" transform="translate(1069.87,378.00) scale(1.0116,0.9906)"><tspan font-style="italic">f</tspan><tspan dx="10.8">= 197 Hz</tspan></text>
<text x="0" y="0" font-size="57" font-weight="bold" transform="translate(1285.88,522.30) scale(1.0620,0.9762)"><tspan font-style="italic">f</tspan><tspan dx="8.5">= 17 Hz</tspan></text>
<text x="0" y="0" font-size="57" font-weight="bold" transform="translate(1285.87,597.20) scale(1.0636,0.9762)"><tspan font-style="italic">f</tspan><tspan dx="8.5">=41 Hz</tspan></text>
<text x="0" y="0" font-size="57" font-weight="bold" transform="translate(1285.88,673.00) scale(1.0620,0.9952)"><tspan font-style="italic">f</tspan><tspan dx="8.5">= 97 Hz</tspan></text>
<text x="0" y="0" font-size="57" font-weight="bold" transform="translate(1285.88,750.00) scale(1.0616,1.0119)"><tspan font-style="italic">f</tspan><tspan dx="8.5">= 197Hz</tspan></text>
<text x="0" y="0" font-size="52" font-weight="bold" transform="translate(347.07,393.50) scale(1.0171,1.0278)">200</text>
<text x="0" y="0" font-size="52" font-weight="bold" transform="translate(507.79,393.50) scale(1.0073,1.0278)">250</text>
<text x="0" y="0" font-size="52" font-weight="bold" transform="translate(667.25,393.50) scale(0.9530,1.0278)">300</text>
<text x="0" y="0" font-size="52" font-weight="bold" transform="translate(414.91,464.07) scale(1.0213,1.0388)"><tspan font-style="italic" font-size="52.0">T</tspan><tspan font-size="52.0" dx="-4.2"> (K)</tspan></text>
<text x="0" y="0" font-size="57" font-weight="bold" transform="translate(241.78,272.40) rotate(-90) scale(1.1500,1.0185)"><tspan font-family="Liberation Serif, DejaVu Serif, serif" font-style="italic" font-weight="normal">χ</tspan>'(a.u)</text>
<text x="0" y="0" font-size="65" font-weight="bold" transform="translate(266.01,1925.20) scale(1.1300,1.0667)">0</text>
<text x="0" y="0" font-size="65" font-weight="bold" transform="translate(629.82,1925.40) scale(1.0451,1.0667)">100</text>
<text x="0" y="0" font-size="65" font-weight="bold" transform="translate(1032.94,1925.40) scale(1.0288,1.0667)">200</text>
<text x="0" y="0" font-size="65" font-weight="bold" transform="translate(1435.67,1924.70) scale(1.0144,1.0467)">300</text>
<text x="0" y="0" font-size="94" font-weight="normal" transform="translate(799.35,2044.45) scale(0.9611,0.9775)"><tspan font-style="italic" font-size="98.7">T</tspan><tspan font-size="94.0" dx="-12.2"> (K)</tspan></text>
<text x="0" y="0" font-size="93" font-weight="normal" transform="translate(105.00,1540.33) rotate(-90) scale(0.9814,1.0000)"><tspan font-family="Liberation Serif, DejaVu Serif, serif" font-style="italic" font-weight="normal">χ</tspan>'' (a.u)</text>
<text x="0" y="0" font-size="77" font-weight="normal" transform="translate(1481.19,1124.50) scale(1.0821,0.9877)">(b)</text>
<text x="0" y="0" font-size="68" font-weight="bold" transform="translate(1113.41,1115.50) scale(1.0642,1.0000)"><tspan font-style="italic">f</tspan><tspan dx="10.2">= 197 Hz</tspan></text>
<text x="0" y="0" font-size="70" font-weight="bold" transform="translate(865.16,1448.50) scale(1.0476,0.9902)"><tspan font-style="italic">f</tspan><tspan dx="10.5">= 17 Hz</tspan></text>
<text x="0" y="0" font-size="55" font-weight="bold" transform="translate(1274.11,1565.00) scale(1.0935,1.0475)"><tspan font-style="italic">f</tspan><tspan dx="8.2">= 17 Hz</tspan></text>
<text x="0" y="0" font-size="55" font-weight="bold" transform="translate(1274.11,1641.50) scale(1.0935,1.0450)"><tspan font-style="italic">f</tspan><tspan dx="8.2">= 41 Hz</tspan></text>
<text x="0" y="0" font-size="55" font-weight="bold" transform="translate(1274.11,1716.60) scale(1.0935,1.0450)"><tspan font-style="italic">f</tspan><tspan dx="8.2">= 97 Hz</tspan></text>
<text x="0" y="0" font-size="55" font-weight="bold" transform="translate(1274.11,1792.30) scale(1.0951,1.0250)"><tspan font-style="italic">f</tspan><tspan dx="8.2">= 197 Hz</tspan></text>
<text x="0" y="0" font-size="50" font-weight="bold" transform="translate(264.00,1369.00) scale(1.0962,1.0229)">40</text>
<text x="0" y="0" font-size="50" font-weight="bold" transform="translate(448.63,1369.00) scale(1.0863,1.0229)">60</text>
<text x="0" y="0" font-size="50" font-weight="bold" transform="translate(634.46,1369.00) scale(1.0216,1.0229)">80</text>
<text x="0" y="0" font-size="50" font-weight="bold" transform="translate(404.26,1438.19) scale(1.0592,1.0609)"><tspan font-style="italic" font-size="50.0">T</tspan><tspan font-size="50.0" dx="-4.0"> (K)</tspan></text>
<text x="0" y="0" font-size="60" font-weight="bold" transform="translate(260.07,1285.29) rotate(-90) scale(1.1027,1.0179)"><tspan font-family="Liberation Serif, DejaVu Serif, serif" font-style="italic" font-weight="normal">χ</tspan>''(a.u)</text>
<rect x="0" y="2060" width="1627" height="29" fill="#fff"/>
</svg>
</body></html>
